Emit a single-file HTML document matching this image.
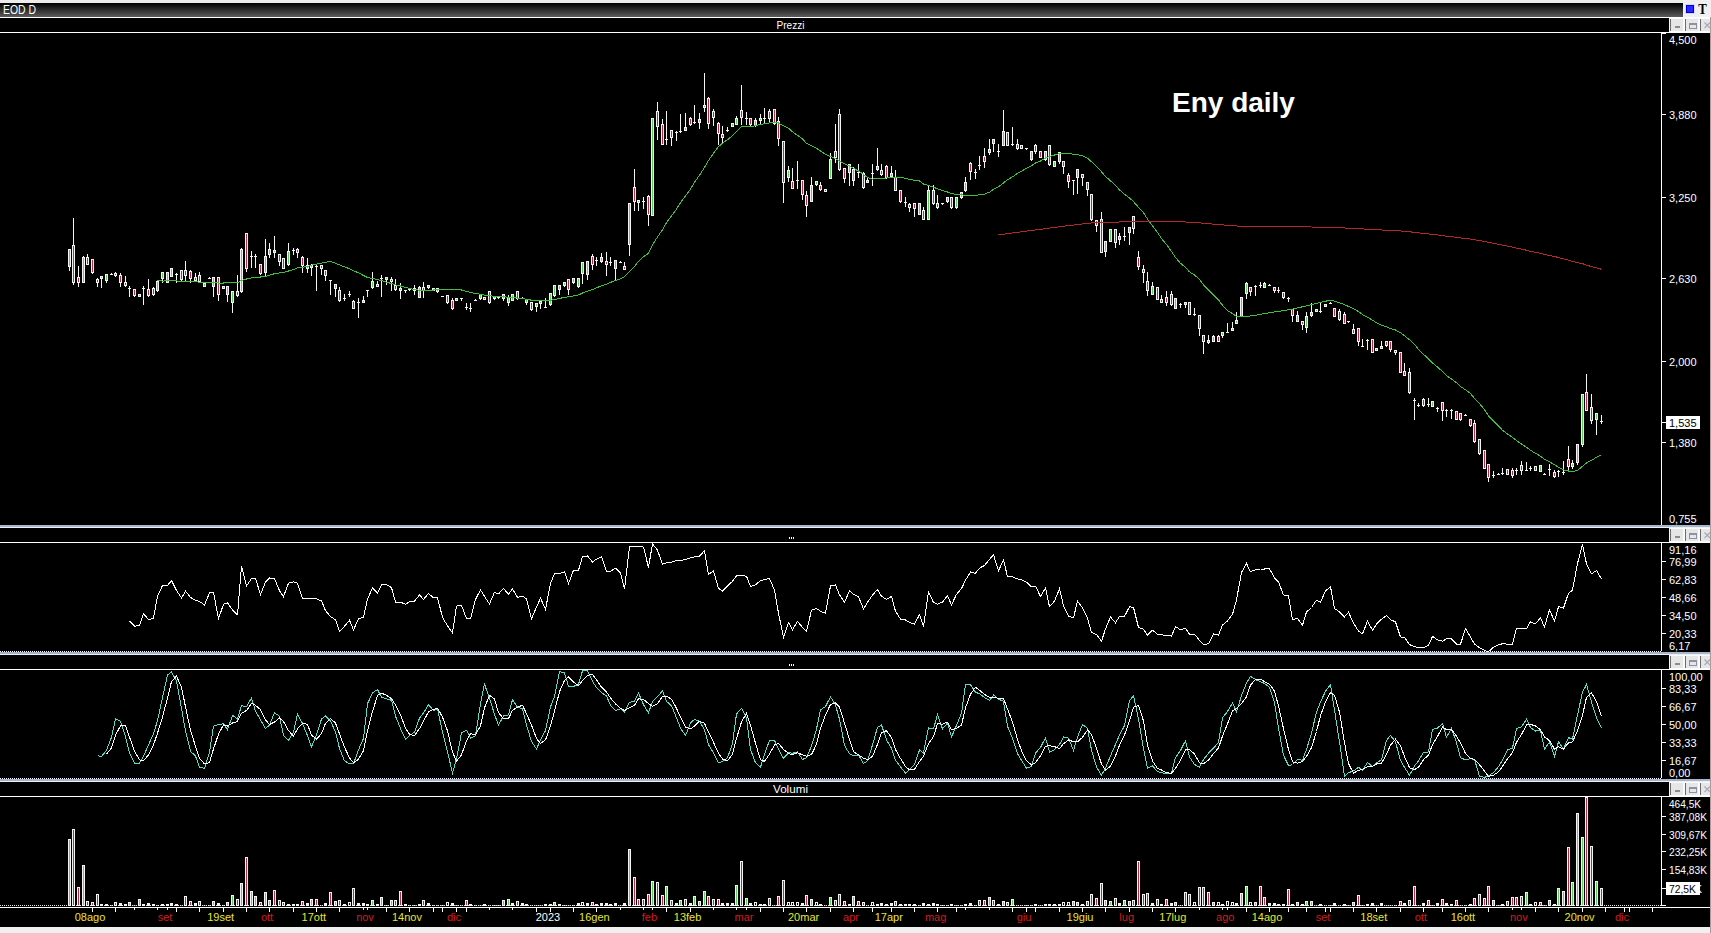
<!DOCTYPE html>
<html><head><meta charset="utf-8"><title>Eny daily</title>
<style>
html,body{margin:0;padding:0;background:#000;overflow:hidden;width:1711px;height:933px}
svg{display:block;font-family:"Liberation Sans",sans-serif}
</style></head><body>
<svg width="1711" height="933" viewBox="0 0 1711 933">
<defs><linearGradient id="gtop" x1="0" y1="0" x2="0" y2="1"><stop offset="0" stop-color="#000"/><stop offset="1" stop-color="#5c5c5c"/></linearGradient></defs>
<rect x="0" y="0" width="1711" height="933" fill="#000"/>
<g shape-rendering="crispEdges">
<rect x="69" y="249" width="1" height="22" fill="#f4f4f4"/>
<rect x="68" y="249" width="3" height="18" fill="#f4f4f4"/>
<rect x="69" y="250" width="1" height="16" fill="#5ccd5c"/>
<rect x="73" y="218" width="1" height="67" fill="#f4f4f4"/>
<rect x="72" y="245" width="3" height="38" fill="#f4f4f4"/>
<rect x="73" y="246" width="1" height="36" fill="#b42a44"/>
<rect x="78" y="266" width="1" height="21" fill="#f4f4f4"/>
<rect x="77" y="277" width="3" height="6" fill="#f4f4f4"/>
<rect x="78" y="278" width="1" height="4" fill="#b42a44"/>
<rect x="83" y="256" width="1" height="27" fill="#f4f4f4"/>
<rect x="82" y="257" width="3" height="26" fill="#f4f4f4"/>
<rect x="83" y="258" width="1" height="24" fill="#5ccd5c"/>
<rect x="87" y="254" width="1" height="11" fill="#f4f4f4"/>
<rect x="86" y="257" width="3" height="8" fill="#f4f4f4"/>
<rect x="87" y="258" width="1" height="6" fill="#b42a44"/>
<rect x="92" y="259" width="1" height="15" fill="#f4f4f4"/>
<rect x="91" y="259" width="3" height="14" fill="#f4f4f4"/>
<rect x="92" y="260" width="1" height="12" fill="#b42a44"/>
<rect x="97" y="278" width="1" height="9" fill="#f4f4f4"/>
<rect x="96" y="279" width="3" height="4" fill="#f4f4f4"/>
<rect x="97" y="280" width="1" height="2" fill="#b42a44"/>
<rect x="101" y="276" width="1" height="12" fill="#f4f4f4"/>
<rect x="100" y="276" width="3" height="3" fill="#f4f4f4"/>
<rect x="101" y="277" width="1" height="1" fill="#5ccd5c"/>
<rect x="106" y="274" width="1" height="9" fill="#f4f4f4"/>
<rect x="105" y="274" width="3" height="7" fill="#f4f4f4"/>
<rect x="106" y="275" width="1" height="5" fill="#5ccd5c"/>
<rect x="111" y="273" width="1" height="2" fill="#f4f4f4"/>
<rect x="110" y="274" width="3" height="1" fill="#f4f4f4"/>
<rect x="115" y="272" width="1" height="5" fill="#f4f4f4"/>
<rect x="114" y="273" width="3" height="3" fill="#f4f4f4"/>
<rect x="115" y="274" width="1" height="1" fill="#b42a44"/>
<rect x="120" y="273" width="1" height="14" fill="#f4f4f4"/>
<rect x="119" y="275" width="3" height="8" fill="#f4f4f4"/>
<rect x="120" y="276" width="1" height="6" fill="#b42a44"/>
<rect x="125" y="276" width="1" height="11" fill="#f4f4f4"/>
<rect x="124" y="282" width="3" height="4" fill="#f4f4f4"/>
<rect x="125" y="283" width="1" height="2" fill="#b42a44"/>
<rect x="129" y="286" width="1" height="11" fill="#f4f4f4"/>
<rect x="128" y="288" width="3" height="1" fill="#f4f4f4"/>
<rect x="134" y="289" width="1" height="8" fill="#f4f4f4"/>
<rect x="133" y="289" width="3" height="7" fill="#f4f4f4"/>
<rect x="134" y="290" width="1" height="5" fill="#b42a44"/>
<rect x="139" y="294" width="1" height="3" fill="#f4f4f4"/>
<rect x="138" y="294" width="3" height="3" fill="#f4f4f4"/>
<rect x="139" y="295" width="1" height="1" fill="#5ccd5c"/>
<rect x="143" y="286" width="1" height="19" fill="#f4f4f4"/>
<rect x="142" y="288" width="3" height="1" fill="#f4f4f4"/>
<rect x="148" y="279" width="1" height="18" fill="#f4f4f4"/>
<rect x="147" y="289" width="3" height="7" fill="#f4f4f4"/>
<rect x="148" y="290" width="1" height="5" fill="#b42a44"/>
<rect x="153" y="287" width="1" height="9" fill="#f4f4f4"/>
<rect x="152" y="288" width="3" height="7" fill="#f4f4f4"/>
<rect x="153" y="289" width="1" height="5" fill="#b42a44"/>
<rect x="157" y="281" width="1" height="11" fill="#f4f4f4"/>
<rect x="156" y="281" width="3" height="10" fill="#f4f4f4"/>
<rect x="157" y="282" width="1" height="8" fill="#5ccd5c"/>
<rect x="162" y="272" width="1" height="11" fill="#f4f4f4"/>
<rect x="161" y="272" width="3" height="7" fill="#f4f4f4"/>
<rect x="162" y="273" width="1" height="5" fill="#5ccd5c"/>
<rect x="167" y="272" width="1" height="11" fill="#f4f4f4"/>
<rect x="166" y="272" width="3" height="11" fill="#f4f4f4"/>
<rect x="167" y="273" width="1" height="9" fill="#5ccd5c"/>
<rect x="171" y="268" width="1" height="9" fill="#f4f4f4"/>
<rect x="170" y="268" width="3" height="9" fill="#f4f4f4"/>
<rect x="171" y="269" width="1" height="7" fill="#5ccd5c"/>
<rect x="176" y="273" width="1" height="10" fill="#f4f4f4"/>
<rect x="175" y="274" width="3" height="1" fill="#f4f4f4"/>
<rect x="181" y="270" width="1" height="11" fill="#f4f4f4"/>
<rect x="180" y="270" width="3" height="10" fill="#f4f4f4"/>
<rect x="181" y="271" width="1" height="8" fill="#b42a44"/>
<rect x="185" y="261" width="1" height="20" fill="#f4f4f4"/>
<rect x="184" y="270" width="3" height="6" fill="#f4f4f4"/>
<rect x="185" y="271" width="1" height="4" fill="#b42a44"/>
<rect x="190" y="270" width="1" height="13" fill="#f4f4f4"/>
<rect x="189" y="271" width="3" height="8" fill="#f4f4f4"/>
<rect x="190" y="272" width="1" height="6" fill="#b42a44"/>
<rect x="195" y="273" width="1" height="9" fill="#f4f4f4"/>
<rect x="194" y="277" width="3" height="4" fill="#f4f4f4"/>
<rect x="195" y="278" width="1" height="2" fill="#b42a44"/>
<rect x="199" y="272" width="1" height="11" fill="#f4f4f4"/>
<rect x="198" y="275" width="3" height="7" fill="#f4f4f4"/>
<rect x="199" y="276" width="1" height="5" fill="#b42a44"/>
<rect x="204" y="283" width="1" height="4" fill="#f4f4f4"/>
<rect x="203" y="283" width="3" height="4" fill="#f4f4f4"/>
<rect x="204" y="284" width="1" height="2" fill="#5ccd5c"/>
<rect x="209" y="277" width="1" height="2" fill="#f4f4f4"/>
<rect x="208" y="278" width="3" height="1" fill="#f4f4f4"/>
<rect x="213" y="277" width="1" height="20" fill="#f4f4f4"/>
<rect x="212" y="277" width="3" height="10" fill="#f4f4f4"/>
<rect x="213" y="278" width="1" height="8" fill="#5ccd5c"/>
<rect x="218" y="277" width="1" height="24" fill="#f4f4f4"/>
<rect x="217" y="277" width="3" height="18" fill="#f4f4f4"/>
<rect x="218" y="278" width="1" height="16" fill="#b42a44"/>
<rect x="223" y="286" width="1" height="3" fill="#f4f4f4"/>
<rect x="222" y="286" width="3" height="3" fill="#f4f4f4"/>
<rect x="223" y="287" width="1" height="1" fill="#5ccd5c"/>
<rect x="227" y="286" width="1" height="16" fill="#f4f4f4"/>
<rect x="226" y="286" width="3" height="9" fill="#f4f4f4"/>
<rect x="227" y="287" width="1" height="7" fill="#5ccd5c"/>
<rect x="232" y="291" width="1" height="22" fill="#f4f4f4"/>
<rect x="231" y="291" width="3" height="12" fill="#f4f4f4"/>
<rect x="232" y="292" width="1" height="10" fill="#5ccd5c"/>
<rect x="237" y="275" width="1" height="22" fill="#f4f4f4"/>
<rect x="236" y="291" width="3" height="5" fill="#f4f4f4"/>
<rect x="237" y="292" width="1" height="3" fill="#b42a44"/>
<rect x="241" y="248" width="1" height="45" fill="#f4f4f4"/>
<rect x="240" y="249" width="3" height="43" fill="#f4f4f4"/>
<rect x="241" y="250" width="1" height="41" fill="#5ccd5c"/>
<rect x="246" y="233" width="1" height="39" fill="#f4f4f4"/>
<rect x="245" y="233" width="3" height="36" fill="#f4f4f4"/>
<rect x="246" y="234" width="1" height="34" fill="#b42a44"/>
<rect x="251" y="251" width="1" height="17" fill="#f4f4f4"/>
<rect x="250" y="256" width="3" height="1" fill="#f4f4f4"/>
<rect x="255" y="254" width="1" height="14" fill="#f4f4f4"/>
<rect x="254" y="256" width="3" height="1" fill="#f4f4f4"/>
<rect x="260" y="264" width="1" height="11" fill="#f4f4f4"/>
<rect x="259" y="264" width="3" height="10" fill="#f4f4f4"/>
<rect x="260" y="265" width="1" height="8" fill="#b42a44"/>
<rect x="265" y="239" width="1" height="37" fill="#f4f4f4"/>
<rect x="264" y="256" width="3" height="17" fill="#f4f4f4"/>
<rect x="265" y="257" width="1" height="15" fill="#5ccd5c"/>
<rect x="269" y="243" width="1" height="15" fill="#f4f4f4"/>
<rect x="268" y="249" width="3" height="6" fill="#f4f4f4"/>
<rect x="269" y="250" width="1" height="4" fill="#5ccd5c"/>
<rect x="274" y="236" width="1" height="22" fill="#f4f4f4"/>
<rect x="273" y="250" width="3" height="3" fill="#f4f4f4"/>
<rect x="274" y="251" width="1" height="1" fill="#5ccd5c"/>
<rect x="279" y="254" width="1" height="12" fill="#f4f4f4"/>
<rect x="278" y="254" width="3" height="8" fill="#f4f4f4"/>
<rect x="279" y="255" width="1" height="6" fill="#b42a44"/>
<rect x="283" y="258" width="1" height="11" fill="#f4f4f4"/>
<rect x="282" y="258" width="3" height="11" fill="#f4f4f4"/>
<rect x="283" y="259" width="1" height="9" fill="#b42a44"/>
<rect x="288" y="243" width="1" height="23" fill="#f4f4f4"/>
<rect x="287" y="251" width="3" height="14" fill="#f4f4f4"/>
<rect x="288" y="252" width="1" height="12" fill="#5ccd5c"/>
<rect x="293" y="248" width="1" height="7" fill="#f4f4f4"/>
<rect x="292" y="250" width="3" height="1" fill="#f4f4f4"/>
<rect x="297" y="248" width="1" height="10" fill="#f4f4f4"/>
<rect x="296" y="249" width="3" height="4" fill="#f4f4f4"/>
<rect x="297" y="250" width="1" height="2" fill="#b42a44"/>
<rect x="302" y="256" width="1" height="17" fill="#f4f4f4"/>
<rect x="301" y="257" width="3" height="9" fill="#f4f4f4"/>
<rect x="302" y="258" width="1" height="7" fill="#b42a44"/>
<rect x="307" y="258" width="1" height="15" fill="#f4f4f4"/>
<rect x="306" y="265" width="3" height="4" fill="#f4f4f4"/>
<rect x="307" y="266" width="1" height="2" fill="#5ccd5c"/>
<rect x="311" y="264" width="1" height="12" fill="#f4f4f4"/>
<rect x="310" y="265" width="3" height="3" fill="#f4f4f4"/>
<rect x="311" y="266" width="1" height="1" fill="#5ccd5c"/>
<rect x="316" y="264" width="1" height="27" fill="#f4f4f4"/>
<rect x="315" y="266" width="3" height="1" fill="#f4f4f4"/>
<rect x="321" y="265" width="1" height="10" fill="#f4f4f4"/>
<rect x="320" y="265" width="3" height="4" fill="#f4f4f4"/>
<rect x="321" y="266" width="1" height="2" fill="#b42a44"/>
<rect x="325" y="270" width="1" height="11" fill="#f4f4f4"/>
<rect x="324" y="270" width="3" height="6" fill="#f4f4f4"/>
<rect x="325" y="271" width="1" height="4" fill="#b42a44"/>
<rect x="330" y="280" width="1" height="15" fill="#f4f4f4"/>
<rect x="329" y="280" width="3" height="1" fill="#f4f4f4"/>
<rect x="335" y="284" width="1" height="13" fill="#f4f4f4"/>
<rect x="334" y="284" width="3" height="5" fill="#f4f4f4"/>
<rect x="335" y="285" width="1" height="3" fill="#5ccd5c"/>
<rect x="339" y="287" width="1" height="15" fill="#f4f4f4"/>
<rect x="338" y="290" width="3" height="11" fill="#f4f4f4"/>
<rect x="339" y="291" width="1" height="9" fill="#b42a44"/>
<rect x="344" y="294" width="1" height="7" fill="#f4f4f4"/>
<rect x="343" y="298" width="3" height="1" fill="#f4f4f4"/>
<rect x="349" y="291" width="1" height="6" fill="#f4f4f4"/>
<rect x="348" y="294" width="3" height="1" fill="#f4f4f4"/>
<rect x="353" y="300" width="1" height="9" fill="#f4f4f4"/>
<rect x="352" y="301" width="3" height="8" fill="#f4f4f4"/>
<rect x="353" y="302" width="1" height="6" fill="#b42a44"/>
<rect x="358" y="298" width="1" height="20" fill="#f4f4f4"/>
<rect x="357" y="302" width="3" height="1" fill="#f4f4f4"/>
<rect x="363" y="296" width="1" height="6" fill="#f4f4f4"/>
<rect x="362" y="300" width="3" height="3" fill="#f4f4f4"/>
<rect x="363" y="301" width="1" height="1" fill="#5ccd5c"/>
<rect x="367" y="290" width="1" height="7" fill="#f4f4f4"/>
<rect x="366" y="290" width="3" height="1" fill="#f4f4f4"/>
<rect x="372" y="272" width="1" height="17" fill="#f4f4f4"/>
<rect x="371" y="281" width="3" height="7" fill="#f4f4f4"/>
<rect x="372" y="282" width="1" height="5" fill="#5ccd5c"/>
<rect x="377" y="281" width="1" height="6" fill="#f4f4f4"/>
<rect x="376" y="284" width="3" height="3" fill="#f4f4f4"/>
<rect x="377" y="285" width="1" height="1" fill="#b42a44"/>
<rect x="381" y="275" width="1" height="22" fill="#f4f4f4"/>
<rect x="380" y="278" width="3" height="1" fill="#f4f4f4"/>
<rect x="386" y="277" width="1" height="8" fill="#f4f4f4"/>
<rect x="385" y="277" width="3" height="3" fill="#f4f4f4"/>
<rect x="386" y="278" width="1" height="1" fill="#5ccd5c"/>
<rect x="391" y="277" width="1" height="14" fill="#f4f4f4"/>
<rect x="390" y="279" width="3" height="3" fill="#f4f4f4"/>
<rect x="391" y="280" width="1" height="1" fill="#b42a44"/>
<rect x="395" y="279" width="1" height="12" fill="#f4f4f4"/>
<rect x="394" y="285" width="3" height="5" fill="#f4f4f4"/>
<rect x="395" y="286" width="1" height="3" fill="#b42a44"/>
<rect x="400" y="283" width="1" height="16" fill="#f4f4f4"/>
<rect x="399" y="288" width="3" height="3" fill="#f4f4f4"/>
<rect x="400" y="289" width="1" height="1" fill="#5ccd5c"/>
<rect x="405" y="290" width="1" height="3" fill="#f4f4f4"/>
<rect x="404" y="290" width="3" height="1" fill="#f4f4f4"/>
<rect x="409" y="289" width="1" height="2" fill="#f4f4f4"/>
<rect x="408" y="289" width="3" height="1" fill="#f4f4f4"/>
<rect x="414" y="285" width="1" height="10" fill="#f4f4f4"/>
<rect x="413" y="288" width="3" height="3" fill="#f4f4f4"/>
<rect x="414" y="289" width="1" height="1" fill="#5ccd5c"/>
<rect x="419" y="286" width="1" height="12" fill="#f4f4f4"/>
<rect x="418" y="287" width="3" height="11" fill="#f4f4f4"/>
<rect x="419" y="288" width="1" height="9" fill="#5ccd5c"/>
<rect x="423" y="282" width="1" height="16" fill="#f4f4f4"/>
<rect x="422" y="287" width="3" height="4" fill="#f4f4f4"/>
<rect x="423" y="288" width="1" height="2" fill="#b42a44"/>
<rect x="428" y="285" width="1" height="4" fill="#f4f4f4"/>
<rect x="427" y="285" width="3" height="3" fill="#f4f4f4"/>
<rect x="428" y="286" width="1" height="1" fill="#5ccd5c"/>
<rect x="433" y="288" width="1" height="3" fill="#f4f4f4"/>
<rect x="432" y="288" width="3" height="3" fill="#f4f4f4"/>
<rect x="433" y="289" width="1" height="1" fill="#5ccd5c"/>
<rect x="437" y="288" width="1" height="5" fill="#f4f4f4"/>
<rect x="436" y="288" width="3" height="4" fill="#f4f4f4"/>
<rect x="437" y="289" width="1" height="2" fill="#5ccd5c"/>
<rect x="442" y="296" width="1" height="1" fill="#f4f4f4"/>
<rect x="441" y="296" width="3" height="1" fill="#f4f4f4"/>
<rect x="447" y="295" width="1" height="9" fill="#f4f4f4"/>
<rect x="446" y="295" width="3" height="8" fill="#f4f4f4"/>
<rect x="447" y="296" width="1" height="6" fill="#b42a44"/>
<rect x="452" y="298" width="1" height="12" fill="#f4f4f4"/>
<rect x="451" y="300" width="3" height="9" fill="#f4f4f4"/>
<rect x="452" y="301" width="1" height="7" fill="#b42a44"/>
<rect x="456" y="298" width="1" height="3" fill="#f4f4f4"/>
<rect x="455" y="298" width="3" height="3" fill="#f4f4f4"/>
<rect x="456" y="299" width="1" height="1" fill="#5ccd5c"/>
<rect x="461" y="298" width="1" height="3" fill="#f4f4f4"/>
<rect x="460" y="298" width="3" height="1" fill="#f4f4f4"/>
<rect x="466" y="303" width="1" height="7" fill="#f4f4f4"/>
<rect x="465" y="307" width="3" height="1" fill="#f4f4f4"/>
<rect x="470" y="303" width="1" height="9" fill="#f4f4f4"/>
<rect x="469" y="308" width="3" height="1" fill="#f4f4f4"/>
<rect x="475" y="299" width="1" height="2" fill="#f4f4f4"/>
<rect x="474" y="300" width="3" height="1" fill="#f4f4f4"/>
<rect x="480" y="294" width="1" height="6" fill="#f4f4f4"/>
<rect x="479" y="294" width="3" height="5" fill="#f4f4f4"/>
<rect x="480" y="295" width="1" height="3" fill="#5ccd5c"/>
<rect x="484" y="297" width="1" height="3" fill="#f4f4f4"/>
<rect x="483" y="297" width="3" height="3" fill="#f4f4f4"/>
<rect x="484" y="298" width="1" height="1" fill="#b42a44"/>
<rect x="489" y="291" width="1" height="13" fill="#f4f4f4"/>
<rect x="488" y="291" width="3" height="12" fill="#f4f4f4"/>
<rect x="489" y="292" width="1" height="10" fill="#b42a44"/>
<rect x="494" y="296" width="1" height="4" fill="#f4f4f4"/>
<rect x="493" y="296" width="3" height="3" fill="#f4f4f4"/>
<rect x="494" y="297" width="1" height="1" fill="#5ccd5c"/>
<rect x="498" y="297" width="1" height="2" fill="#f4f4f4"/>
<rect x="497" y="297" width="3" height="1" fill="#f4f4f4"/>
<rect x="503" y="294" width="1" height="7" fill="#f4f4f4"/>
<rect x="502" y="294" width="3" height="5" fill="#f4f4f4"/>
<rect x="503" y="295" width="1" height="3" fill="#5ccd5c"/>
<rect x="508" y="295" width="1" height="11" fill="#f4f4f4"/>
<rect x="507" y="297" width="3" height="6" fill="#f4f4f4"/>
<rect x="508" y="298" width="1" height="4" fill="#5ccd5c"/>
<rect x="512" y="294" width="1" height="7" fill="#f4f4f4"/>
<rect x="511" y="294" width="3" height="7" fill="#f4f4f4"/>
<rect x="512" y="295" width="1" height="5" fill="#5ccd5c"/>
<rect x="517" y="291" width="1" height="9" fill="#f4f4f4"/>
<rect x="516" y="291" width="3" height="8" fill="#f4f4f4"/>
<rect x="517" y="292" width="1" height="6" fill="#b42a44"/>
<rect x="522" y="297" width="1" height="2" fill="#f4f4f4"/>
<rect x="521" y="298" width="3" height="1" fill="#f4f4f4"/>
<rect x="526" y="299" width="1" height="6" fill="#f4f4f4"/>
<rect x="525" y="299" width="3" height="4" fill="#f4f4f4"/>
<rect x="526" y="300" width="1" height="2" fill="#5ccd5c"/>
<rect x="531" y="302" width="1" height="9" fill="#f4f4f4"/>
<rect x="530" y="302" width="3" height="8" fill="#f4f4f4"/>
<rect x="531" y="303" width="1" height="6" fill="#b42a44"/>
<rect x="536" y="303" width="1" height="9" fill="#f4f4f4"/>
<rect x="535" y="303" width="3" height="4" fill="#f4f4f4"/>
<rect x="536" y="304" width="1" height="2" fill="#5ccd5c"/>
<rect x="540" y="300" width="1" height="9" fill="#f4f4f4"/>
<rect x="539" y="301" width="3" height="3" fill="#f4f4f4"/>
<rect x="540" y="302" width="1" height="1" fill="#5ccd5c"/>
<rect x="545" y="298" width="1" height="10" fill="#f4f4f4"/>
<rect x="544" y="307" width="3" height="1" fill="#f4f4f4"/>
<rect x="550" y="293" width="1" height="13" fill="#f4f4f4"/>
<rect x="549" y="293" width="3" height="12" fill="#f4f4f4"/>
<rect x="550" y="294" width="1" height="10" fill="#5ccd5c"/>
<rect x="554" y="285" width="1" height="12" fill="#f4f4f4"/>
<rect x="553" y="285" width="3" height="11" fill="#f4f4f4"/>
<rect x="554" y="286" width="1" height="9" fill="#5ccd5c"/>
<rect x="559" y="285" width="1" height="10" fill="#f4f4f4"/>
<rect x="558" y="285" width="3" height="5" fill="#f4f4f4"/>
<rect x="559" y="286" width="1" height="3" fill="#5ccd5c"/>
<rect x="564" y="282" width="1" height="5" fill="#f4f4f4"/>
<rect x="563" y="282" width="3" height="4" fill="#f4f4f4"/>
<rect x="564" y="283" width="1" height="2" fill="#5ccd5c"/>
<rect x="568" y="279" width="1" height="16" fill="#f4f4f4"/>
<rect x="567" y="279" width="3" height="11" fill="#f4f4f4"/>
<rect x="568" y="280" width="1" height="9" fill="#b42a44"/>
<rect x="573" y="278" width="1" height="6" fill="#f4f4f4"/>
<rect x="572" y="278" width="3" height="5" fill="#f4f4f4"/>
<rect x="573" y="279" width="1" height="3" fill="#5ccd5c"/>
<rect x="578" y="278" width="1" height="10" fill="#f4f4f4"/>
<rect x="577" y="278" width="3" height="9" fill="#f4f4f4"/>
<rect x="578" y="279" width="1" height="7" fill="#5ccd5c"/>
<rect x="582" y="262" width="1" height="22" fill="#f4f4f4"/>
<rect x="581" y="262" width="3" height="12" fill="#f4f4f4"/>
<rect x="582" y="263" width="1" height="10" fill="#5ccd5c"/>
<rect x="587" y="261" width="1" height="19" fill="#f4f4f4"/>
<rect x="586" y="261" width="3" height="14" fill="#f4f4f4"/>
<rect x="587" y="262" width="1" height="12" fill="#5ccd5c"/>
<rect x="592" y="254" width="1" height="16" fill="#f4f4f4"/>
<rect x="591" y="256" width="3" height="9" fill="#f4f4f4"/>
<rect x="592" y="257" width="1" height="7" fill="#b42a44"/>
<rect x="596" y="257" width="1" height="9" fill="#f4f4f4"/>
<rect x="595" y="260" width="3" height="1" fill="#f4f4f4"/>
<rect x="601" y="253" width="1" height="10" fill="#f4f4f4"/>
<rect x="600" y="257" width="3" height="5" fill="#f4f4f4"/>
<rect x="601" y="258" width="1" height="3" fill="#5ccd5c"/>
<rect x="606" y="252" width="1" height="24" fill="#f4f4f4"/>
<rect x="605" y="261" width="3" height="4" fill="#f4f4f4"/>
<rect x="606" y="262" width="1" height="2" fill="#b42a44"/>
<rect x="610" y="257" width="1" height="9" fill="#f4f4f4"/>
<rect x="609" y="262" width="3" height="1" fill="#f4f4f4"/>
<rect x="615" y="260" width="1" height="21" fill="#f4f4f4"/>
<rect x="614" y="260" width="3" height="9" fill="#f4f4f4"/>
<rect x="615" y="261" width="1" height="7" fill="#5ccd5c"/>
<rect x="620" y="261" width="1" height="2" fill="#f4f4f4"/>
<rect x="619" y="262" width="3" height="1" fill="#f4f4f4"/>
<rect x="624" y="262" width="1" height="8" fill="#f4f4f4"/>
<rect x="623" y="266" width="3" height="4" fill="#f4f4f4"/>
<rect x="624" y="267" width="1" height="2" fill="#b42a44"/>
<rect x="629" y="203" width="1" height="53" fill="#f4f4f4"/>
<rect x="628" y="203" width="3" height="42" fill="#f4f4f4"/>
<rect x="629" y="204" width="1" height="40" fill="#5ccd5c"/>
<rect x="634" y="169" width="1" height="42" fill="#f4f4f4"/>
<rect x="633" y="187" width="3" height="15" fill="#f4f4f4"/>
<rect x="634" y="188" width="1" height="13" fill="#b42a44"/>
<rect x="638" y="200" width="1" height="11" fill="#f4f4f4"/>
<rect x="637" y="200" width="3" height="3" fill="#f4f4f4"/>
<rect x="638" y="201" width="1" height="1" fill="#5ccd5c"/>
<rect x="643" y="197" width="1" height="12" fill="#f4f4f4"/>
<rect x="642" y="201" width="3" height="1" fill="#f4f4f4"/>
<rect x="648" y="195" width="1" height="31" fill="#f4f4f4"/>
<rect x="647" y="196" width="3" height="19" fill="#f4f4f4"/>
<rect x="648" y="197" width="1" height="17" fill="#b42a44"/>
<rect x="652" y="118" width="1" height="98" fill="#f4f4f4"/>
<rect x="651" y="118" width="3" height="98" fill="#f4f4f4"/>
<rect x="652" y="119" width="1" height="96" fill="#5ccd5c"/>
<rect x="657" y="102" width="1" height="38" fill="#f4f4f4"/>
<rect x="656" y="111" width="3" height="16" fill="#f4f4f4"/>
<rect x="657" y="112" width="1" height="14" fill="#b42a44"/>
<rect x="662" y="119" width="1" height="26" fill="#f4f4f4"/>
<rect x="661" y="124" width="3" height="21" fill="#f4f4f4"/>
<rect x="662" y="125" width="1" height="19" fill="#b42a44"/>
<rect x="666" y="111" width="1" height="34" fill="#f4f4f4"/>
<rect x="665" y="139" width="3" height="1" fill="#f4f4f4"/>
<rect x="671" y="130" width="1" height="16" fill="#f4f4f4"/>
<rect x="670" y="130" width="3" height="8" fill="#f4f4f4"/>
<rect x="671" y="131" width="1" height="6" fill="#b42a44"/>
<rect x="676" y="131" width="1" height="10" fill="#f4f4f4"/>
<rect x="675" y="132" width="3" height="1" fill="#f4f4f4"/>
<rect x="680" y="114" width="1" height="19" fill="#f4f4f4"/>
<rect x="679" y="131" width="3" height="1" fill="#f4f4f4"/>
<rect x="685" y="113" width="1" height="18" fill="#f4f4f4"/>
<rect x="684" y="127" width="3" height="4" fill="#f4f4f4"/>
<rect x="685" y="128" width="1" height="2" fill="#5ccd5c"/>
<rect x="690" y="117" width="1" height="9" fill="#f4f4f4"/>
<rect x="689" y="118" width="3" height="7" fill="#f4f4f4"/>
<rect x="690" y="119" width="1" height="5" fill="#b42a44"/>
<rect x="694" y="105" width="1" height="19" fill="#f4f4f4"/>
<rect x="693" y="122" width="3" height="1" fill="#f4f4f4"/>
<rect x="699" y="113" width="1" height="16" fill="#f4f4f4"/>
<rect x="698" y="119" width="3" height="4" fill="#f4f4f4"/>
<rect x="699" y="120" width="1" height="2" fill="#5ccd5c"/>
<rect x="704" y="73" width="1" height="39" fill="#f4f4f4"/>
<rect x="703" y="105" width="3" height="3" fill="#f4f4f4"/>
<rect x="704" y="106" width="1" height="1" fill="#5ccd5c"/>
<rect x="708" y="97" width="1" height="32" fill="#f4f4f4"/>
<rect x="707" y="98" width="3" height="26" fill="#f4f4f4"/>
<rect x="708" y="99" width="1" height="24" fill="#b42a44"/>
<rect x="713" y="109" width="1" height="17" fill="#f4f4f4"/>
<rect x="712" y="111" width="3" height="7" fill="#f4f4f4"/>
<rect x="713" y="112" width="1" height="5" fill="#b42a44"/>
<rect x="718" y="122" width="1" height="23" fill="#f4f4f4"/>
<rect x="717" y="123" width="3" height="11" fill="#f4f4f4"/>
<rect x="718" y="124" width="1" height="9" fill="#b42a44"/>
<rect x="722" y="126" width="1" height="18" fill="#f4f4f4"/>
<rect x="721" y="134" width="3" height="4" fill="#f4f4f4"/>
<rect x="722" y="135" width="1" height="2" fill="#b42a44"/>
<rect x="727" y="127" width="1" height="5" fill="#f4f4f4"/>
<rect x="726" y="130" width="3" height="1" fill="#f4f4f4"/>
<rect x="732" y="123" width="1" height="4" fill="#f4f4f4"/>
<rect x="731" y="123" width="3" height="4" fill="#f4f4f4"/>
<rect x="732" y="124" width="1" height="2" fill="#5ccd5c"/>
<rect x="736" y="116" width="1" height="9" fill="#f4f4f4"/>
<rect x="735" y="118" width="3" height="7" fill="#f4f4f4"/>
<rect x="736" y="119" width="1" height="5" fill="#5ccd5c"/>
<rect x="741" y="85" width="1" height="40" fill="#f4f4f4"/>
<rect x="740" y="110" width="3" height="8" fill="#f4f4f4"/>
<rect x="741" y="111" width="1" height="6" fill="#b42a44"/>
<rect x="746" y="112" width="1" height="13" fill="#f4f4f4"/>
<rect x="745" y="118" width="3" height="1" fill="#f4f4f4"/>
<rect x="750" y="118" width="1" height="8" fill="#f4f4f4"/>
<rect x="749" y="118" width="3" height="7" fill="#f4f4f4"/>
<rect x="750" y="119" width="1" height="5" fill="#b42a44"/>
<rect x="755" y="118" width="1" height="9" fill="#f4f4f4"/>
<rect x="754" y="120" width="3" height="6" fill="#f4f4f4"/>
<rect x="755" y="121" width="1" height="4" fill="#5ccd5c"/>
<rect x="760" y="114" width="1" height="11" fill="#f4f4f4"/>
<rect x="759" y="118" width="3" height="3" fill="#f4f4f4"/>
<rect x="760" y="119" width="1" height="1" fill="#5ccd5c"/>
<rect x="764" y="108" width="1" height="16" fill="#f4f4f4"/>
<rect x="763" y="118" width="3" height="1" fill="#f4f4f4"/>
<rect x="769" y="109" width="1" height="14" fill="#f4f4f4"/>
<rect x="768" y="111" width="3" height="8" fill="#f4f4f4"/>
<rect x="769" y="112" width="1" height="6" fill="#b42a44"/>
<rect x="774" y="109" width="1" height="16" fill="#f4f4f4"/>
<rect x="773" y="109" width="3" height="15" fill="#f4f4f4"/>
<rect x="774" y="110" width="1" height="13" fill="#b42a44"/>
<rect x="778" y="117" width="1" height="29" fill="#f4f4f4"/>
<rect x="777" y="121" width="3" height="18" fill="#f4f4f4"/>
<rect x="778" y="122" width="1" height="16" fill="#b42a44"/>
<rect x="783" y="141" width="1" height="62" fill="#f4f4f4"/>
<rect x="782" y="141" width="3" height="42" fill="#f4f4f4"/>
<rect x="783" y="142" width="1" height="40" fill="#b42a44"/>
<rect x="788" y="166" width="1" height="16" fill="#f4f4f4"/>
<rect x="787" y="170" width="3" height="8" fill="#f4f4f4"/>
<rect x="788" y="171" width="1" height="6" fill="#5ccd5c"/>
<rect x="792" y="168" width="1" height="21" fill="#f4f4f4"/>
<rect x="791" y="181" width="3" height="8" fill="#f4f4f4"/>
<rect x="792" y="182" width="1" height="6" fill="#b42a44"/>
<rect x="797" y="161" width="1" height="28" fill="#f4f4f4"/>
<rect x="796" y="180" width="3" height="1" fill="#f4f4f4"/>
<rect x="802" y="180" width="1" height="20" fill="#f4f4f4"/>
<rect x="801" y="180" width="3" height="15" fill="#f4f4f4"/>
<rect x="802" y="181" width="1" height="13" fill="#b42a44"/>
<rect x="806" y="191" width="1" height="26" fill="#f4f4f4"/>
<rect x="805" y="195" width="3" height="11" fill="#f4f4f4"/>
<rect x="806" y="196" width="1" height="9" fill="#b42a44"/>
<rect x="811" y="177" width="1" height="25" fill="#f4f4f4"/>
<rect x="810" y="185" width="3" height="17" fill="#f4f4f4"/>
<rect x="811" y="186" width="1" height="15" fill="#5ccd5c"/>
<rect x="816" y="181" width="1" height="5" fill="#f4f4f4"/>
<rect x="815" y="181" width="3" height="4" fill="#f4f4f4"/>
<rect x="816" y="182" width="1" height="2" fill="#5ccd5c"/>
<rect x="820" y="182" width="1" height="9" fill="#f4f4f4"/>
<rect x="819" y="185" width="3" height="5" fill="#f4f4f4"/>
<rect x="820" y="186" width="1" height="3" fill="#b42a44"/>
<rect x="825" y="189" width="1" height="3" fill="#f4f4f4"/>
<rect x="824" y="189" width="3" height="3" fill="#f4f4f4"/>
<rect x="825" y="190" width="1" height="1" fill="#b42a44"/>
<rect x="830" y="153" width="1" height="26" fill="#f4f4f4"/>
<rect x="829" y="159" width="3" height="20" fill="#f4f4f4"/>
<rect x="830" y="160" width="1" height="18" fill="#5ccd5c"/>
<rect x="835" y="124" width="1" height="39" fill="#f4f4f4"/>
<rect x="834" y="151" width="3" height="7" fill="#f4f4f4"/>
<rect x="835" y="152" width="1" height="5" fill="#b42a44"/>
<rect x="839" y="109" width="1" height="62" fill="#f4f4f4"/>
<rect x="838" y="114" width="3" height="56" fill="#f4f4f4"/>
<rect x="839" y="115" width="1" height="54" fill="#b42a44"/>
<rect x="844" y="168" width="1" height="15" fill="#f4f4f4"/>
<rect x="843" y="168" width="3" height="11" fill="#f4f4f4"/>
<rect x="844" y="169" width="1" height="9" fill="#b42a44"/>
<rect x="849" y="164" width="1" height="22" fill="#f4f4f4"/>
<rect x="848" y="164" width="3" height="9" fill="#f4f4f4"/>
<rect x="849" y="165" width="1" height="7" fill="#5ccd5c"/>
<rect x="853" y="167" width="1" height="19" fill="#f4f4f4"/>
<rect x="852" y="169" width="3" height="12" fill="#f4f4f4"/>
<rect x="853" y="170" width="1" height="10" fill="#5ccd5c"/>
<rect x="858" y="164" width="1" height="14" fill="#f4f4f4"/>
<rect x="857" y="172" width="3" height="1" fill="#f4f4f4"/>
<rect x="863" y="172" width="1" height="17" fill="#f4f4f4"/>
<rect x="862" y="173" width="3" height="15" fill="#f4f4f4"/>
<rect x="863" y="174" width="1" height="13" fill="#b42a44"/>
<rect x="867" y="178" width="1" height="5" fill="#f4f4f4"/>
<rect x="866" y="180" width="3" height="3" fill="#f4f4f4"/>
<rect x="867" y="181" width="1" height="1" fill="#5ccd5c"/>
<rect x="872" y="164" width="1" height="22" fill="#f4f4f4"/>
<rect x="871" y="173" width="3" height="1" fill="#f4f4f4"/>
<rect x="877" y="148" width="1" height="23" fill="#f4f4f4"/>
<rect x="876" y="166" width="3" height="4" fill="#f4f4f4"/>
<rect x="877" y="167" width="1" height="2" fill="#5ccd5c"/>
<rect x="881" y="164" width="1" height="12" fill="#f4f4f4"/>
<rect x="880" y="170" width="3" height="5" fill="#f4f4f4"/>
<rect x="881" y="171" width="1" height="3" fill="#b42a44"/>
<rect x="886" y="165" width="1" height="14" fill="#f4f4f4"/>
<rect x="885" y="166" width="3" height="12" fill="#f4f4f4"/>
<rect x="886" y="167" width="1" height="10" fill="#b42a44"/>
<rect x="891" y="166" width="1" height="12" fill="#f4f4f4"/>
<rect x="890" y="173" width="3" height="4" fill="#f4f4f4"/>
<rect x="891" y="174" width="1" height="2" fill="#5ccd5c"/>
<rect x="895" y="170" width="1" height="21" fill="#f4f4f4"/>
<rect x="894" y="177" width="3" height="14" fill="#f4f4f4"/>
<rect x="895" y="178" width="1" height="12" fill="#b42a44"/>
<rect x="900" y="190" width="1" height="13" fill="#f4f4f4"/>
<rect x="899" y="190" width="3" height="12" fill="#f4f4f4"/>
<rect x="900" y="191" width="1" height="10" fill="#b42a44"/>
<rect x="905" y="197" width="1" height="10" fill="#f4f4f4"/>
<rect x="904" y="202" width="3" height="1" fill="#f4f4f4"/>
<rect x="909" y="203" width="1" height="9" fill="#f4f4f4"/>
<rect x="908" y="204" width="3" height="4" fill="#f4f4f4"/>
<rect x="909" y="205" width="1" height="2" fill="#b42a44"/>
<rect x="914" y="203" width="1" height="14" fill="#f4f4f4"/>
<rect x="913" y="203" width="3" height="6" fill="#f4f4f4"/>
<rect x="914" y="204" width="1" height="4" fill="#b42a44"/>
<rect x="919" y="203" width="1" height="12" fill="#f4f4f4"/>
<rect x="918" y="203" width="3" height="12" fill="#f4f4f4"/>
<rect x="919" y="204" width="1" height="10" fill="#5ccd5c"/>
<rect x="923" y="207" width="1" height="13" fill="#f4f4f4"/>
<rect x="922" y="210" width="3" height="10" fill="#f4f4f4"/>
<rect x="923" y="211" width="1" height="8" fill="#b42a44"/>
<rect x="928" y="185" width="1" height="35" fill="#f4f4f4"/>
<rect x="927" y="190" width="3" height="30" fill="#f4f4f4"/>
<rect x="928" y="191" width="1" height="28" fill="#5ccd5c"/>
<rect x="933" y="185" width="1" height="20" fill="#f4f4f4"/>
<rect x="932" y="190" width="3" height="14" fill="#f4f4f4"/>
<rect x="933" y="191" width="1" height="12" fill="#b42a44"/>
<rect x="937" y="195" width="1" height="14" fill="#f4f4f4"/>
<rect x="936" y="203" width="3" height="5" fill="#f4f4f4"/>
<rect x="937" y="204" width="1" height="3" fill="#b42a44"/>
<rect x="942" y="203" width="1" height="2" fill="#f4f4f4"/>
<rect x="941" y="203" width="3" height="1" fill="#f4f4f4"/>
<rect x="947" y="197" width="1" height="6" fill="#f4f4f4"/>
<rect x="946" y="197" width="3" height="5" fill="#f4f4f4"/>
<rect x="947" y="198" width="1" height="3" fill="#5ccd5c"/>
<rect x="951" y="197" width="1" height="12" fill="#f4f4f4"/>
<rect x="950" y="197" width="3" height="11" fill="#f4f4f4"/>
<rect x="951" y="198" width="1" height="9" fill="#b42a44"/>
<rect x="956" y="197" width="1" height="12" fill="#f4f4f4"/>
<rect x="955" y="197" width="3" height="11" fill="#f4f4f4"/>
<rect x="956" y="198" width="1" height="9" fill="#5ccd5c"/>
<rect x="961" y="192" width="1" height="7" fill="#f4f4f4"/>
<rect x="960" y="192" width="3" height="6" fill="#f4f4f4"/>
<rect x="961" y="193" width="1" height="4" fill="#5ccd5c"/>
<rect x="965" y="177" width="1" height="15" fill="#f4f4f4"/>
<rect x="964" y="182" width="3" height="9" fill="#f4f4f4"/>
<rect x="965" y="183" width="1" height="7" fill="#5ccd5c"/>
<rect x="970" y="162" width="1" height="18" fill="#f4f4f4"/>
<rect x="969" y="163" width="3" height="9" fill="#f4f4f4"/>
<rect x="970" y="164" width="1" height="7" fill="#b42a44"/>
<rect x="975" y="169" width="1" height="10" fill="#f4f4f4"/>
<rect x="974" y="172" width="3" height="1" fill="#f4f4f4"/>
<rect x="979" y="156" width="1" height="14" fill="#f4f4f4"/>
<rect x="978" y="165" width="3" height="1" fill="#f4f4f4"/>
<rect x="984" y="148" width="1" height="20" fill="#f4f4f4"/>
<rect x="983" y="156" width="3" height="6" fill="#f4f4f4"/>
<rect x="984" y="157" width="1" height="4" fill="#b42a44"/>
<rect x="989" y="139" width="1" height="16" fill="#f4f4f4"/>
<rect x="988" y="149" width="3" height="4" fill="#f4f4f4"/>
<rect x="989" y="150" width="1" height="2" fill="#5ccd5c"/>
<rect x="993" y="139" width="1" height="13" fill="#f4f4f4"/>
<rect x="992" y="139" width="3" height="5" fill="#f4f4f4"/>
<rect x="993" y="140" width="1" height="3" fill="#5ccd5c"/>
<rect x="998" y="144" width="1" height="13" fill="#f4f4f4"/>
<rect x="997" y="151" width="3" height="1" fill="#f4f4f4"/>
<rect x="1003" y="110" width="1" height="36" fill="#f4f4f4"/>
<rect x="1002" y="131" width="3" height="15" fill="#f4f4f4"/>
<rect x="1003" y="132" width="1" height="13" fill="#5ccd5c"/>
<rect x="1007" y="132" width="1" height="14" fill="#f4f4f4"/>
<rect x="1006" y="132" width="3" height="14" fill="#f4f4f4"/>
<rect x="1007" y="133" width="1" height="12" fill="#b42a44"/>
<rect x="1012" y="127" width="1" height="19" fill="#f4f4f4"/>
<rect x="1011" y="144" width="3" height="1" fill="#f4f4f4"/>
<rect x="1017" y="139" width="1" height="11" fill="#f4f4f4"/>
<rect x="1016" y="144" width="3" height="5" fill="#f4f4f4"/>
<rect x="1017" y="145" width="1" height="3" fill="#b42a44"/>
<rect x="1021" y="145" width="1" height="4" fill="#f4f4f4"/>
<rect x="1020" y="145" width="3" height="4" fill="#f4f4f4"/>
<rect x="1021" y="146" width="1" height="2" fill="#b42a44"/>
<rect x="1026" y="148" width="1" height="2" fill="#f4f4f4"/>
<rect x="1025" y="148" width="3" height="1" fill="#f4f4f4"/>
<rect x="1031" y="151" width="1" height="10" fill="#f4f4f4"/>
<rect x="1030" y="151" width="3" height="9" fill="#f4f4f4"/>
<rect x="1031" y="152" width="1" height="7" fill="#5ccd5c"/>
<rect x="1035" y="144" width="1" height="10" fill="#f4f4f4"/>
<rect x="1034" y="145" width="3" height="7" fill="#f4f4f4"/>
<rect x="1035" y="146" width="1" height="5" fill="#b42a44"/>
<rect x="1040" y="151" width="1" height="7" fill="#f4f4f4"/>
<rect x="1039" y="151" width="3" height="7" fill="#f4f4f4"/>
<rect x="1040" y="152" width="1" height="5" fill="#b42a44"/>
<rect x="1045" y="151" width="1" height="10" fill="#f4f4f4"/>
<rect x="1044" y="151" width="3" height="9" fill="#f4f4f4"/>
<rect x="1045" y="152" width="1" height="7" fill="#5ccd5c"/>
<rect x="1049" y="145" width="1" height="21" fill="#f4f4f4"/>
<rect x="1048" y="145" width="3" height="20" fill="#f4f4f4"/>
<rect x="1049" y="146" width="1" height="18" fill="#b42a44"/>
<rect x="1054" y="161" width="1" height="6" fill="#f4f4f4"/>
<rect x="1053" y="161" width="3" height="6" fill="#f4f4f4"/>
<rect x="1054" y="162" width="1" height="4" fill="#5ccd5c"/>
<rect x="1059" y="152" width="1" height="12" fill="#f4f4f4"/>
<rect x="1058" y="152" width="3" height="10" fill="#f4f4f4"/>
<rect x="1059" y="153" width="1" height="8" fill="#5ccd5c"/>
<rect x="1063" y="161" width="1" height="13" fill="#f4f4f4"/>
<rect x="1062" y="161" width="3" height="6" fill="#f4f4f4"/>
<rect x="1063" y="162" width="1" height="4" fill="#b42a44"/>
<rect x="1068" y="173" width="1" height="15" fill="#f4f4f4"/>
<rect x="1067" y="175" width="3" height="7" fill="#f4f4f4"/>
<rect x="1068" y="176" width="1" height="5" fill="#b42a44"/>
<rect x="1073" y="180" width="1" height="15" fill="#f4f4f4"/>
<rect x="1072" y="180" width="3" height="1" fill="#f4f4f4"/>
<rect x="1077" y="169" width="1" height="25" fill="#f4f4f4"/>
<rect x="1076" y="169" width="3" height="9" fill="#f4f4f4"/>
<rect x="1077" y="170" width="1" height="7" fill="#5ccd5c"/>
<rect x="1082" y="174" width="1" height="12" fill="#f4f4f4"/>
<rect x="1081" y="174" width="3" height="4" fill="#f4f4f4"/>
<rect x="1082" y="175" width="1" height="2" fill="#b42a44"/>
<rect x="1087" y="182" width="1" height="14" fill="#f4f4f4"/>
<rect x="1086" y="182" width="3" height="8" fill="#f4f4f4"/>
<rect x="1087" y="183" width="1" height="6" fill="#b42a44"/>
<rect x="1091" y="194" width="1" height="27" fill="#f4f4f4"/>
<rect x="1090" y="194" width="3" height="26" fill="#f4f4f4"/>
<rect x="1091" y="195" width="1" height="24" fill="#b42a44"/>
<rect x="1096" y="220" width="1" height="12" fill="#f4f4f4"/>
<rect x="1095" y="220" width="3" height="6" fill="#f4f4f4"/>
<rect x="1096" y="221" width="1" height="4" fill="#b42a44"/>
<rect x="1101" y="212" width="1" height="41" fill="#f4f4f4"/>
<rect x="1100" y="219" width="3" height="34" fill="#f4f4f4"/>
<rect x="1101" y="220" width="1" height="32" fill="#b42a44"/>
<rect x="1105" y="241" width="1" height="16" fill="#f4f4f4"/>
<rect x="1104" y="241" width="3" height="11" fill="#f4f4f4"/>
<rect x="1105" y="242" width="1" height="9" fill="#5ccd5c"/>
<rect x="1110" y="229" width="1" height="13" fill="#f4f4f4"/>
<rect x="1109" y="229" width="3" height="13" fill="#f4f4f4"/>
<rect x="1110" y="230" width="1" height="11" fill="#5ccd5c"/>
<rect x="1115" y="229" width="1" height="19" fill="#f4f4f4"/>
<rect x="1114" y="229" width="3" height="14" fill="#f4f4f4"/>
<rect x="1115" y="230" width="1" height="12" fill="#b42a44"/>
<rect x="1119" y="233" width="1" height="12" fill="#f4f4f4"/>
<rect x="1118" y="236" width="3" height="4" fill="#f4f4f4"/>
<rect x="1119" y="237" width="1" height="2" fill="#5ccd5c"/>
<rect x="1124" y="227" width="1" height="14" fill="#f4f4f4"/>
<rect x="1123" y="236" width="3" height="1" fill="#f4f4f4"/>
<rect x="1129" y="227" width="1" height="18" fill="#f4f4f4"/>
<rect x="1128" y="227" width="3" height="6" fill="#f4f4f4"/>
<rect x="1129" y="228" width="1" height="4" fill="#5ccd5c"/>
<rect x="1133" y="216" width="1" height="18" fill="#f4f4f4"/>
<rect x="1132" y="216" width="3" height="13" fill="#f4f4f4"/>
<rect x="1133" y="217" width="1" height="11" fill="#b42a44"/>
<rect x="1138" y="251" width="1" height="19" fill="#f4f4f4"/>
<rect x="1137" y="257" width="3" height="10" fill="#f4f4f4"/>
<rect x="1138" y="258" width="1" height="8" fill="#b42a44"/>
<rect x="1143" y="265" width="1" height="18" fill="#f4f4f4"/>
<rect x="1142" y="269" width="3" height="4" fill="#f4f4f4"/>
<rect x="1143" y="270" width="1" height="2" fill="#b42a44"/>
<rect x="1147" y="272" width="1" height="24" fill="#f4f4f4"/>
<rect x="1146" y="281" width="3" height="10" fill="#f4f4f4"/>
<rect x="1147" y="282" width="1" height="8" fill="#b42a44"/>
<rect x="1152" y="282" width="1" height="13" fill="#f4f4f4"/>
<rect x="1151" y="286" width="3" height="9" fill="#f4f4f4"/>
<rect x="1152" y="287" width="1" height="7" fill="#5ccd5c"/>
<rect x="1157" y="287" width="1" height="13" fill="#f4f4f4"/>
<rect x="1156" y="287" width="3" height="13" fill="#f4f4f4"/>
<rect x="1157" y="288" width="1" height="11" fill="#b42a44"/>
<rect x="1161" y="295" width="1" height="8" fill="#f4f4f4"/>
<rect x="1160" y="299" width="3" height="4" fill="#f4f4f4"/>
<rect x="1161" y="300" width="1" height="2" fill="#b42a44"/>
<rect x="1166" y="291" width="1" height="15" fill="#f4f4f4"/>
<rect x="1165" y="297" width="3" height="6" fill="#f4f4f4"/>
<rect x="1166" y="298" width="1" height="4" fill="#b42a44"/>
<rect x="1171" y="291" width="1" height="15" fill="#f4f4f4"/>
<rect x="1170" y="294" width="3" height="11" fill="#f4f4f4"/>
<rect x="1171" y="295" width="1" height="9" fill="#b42a44"/>
<rect x="1175" y="298" width="1" height="11" fill="#f4f4f4"/>
<rect x="1174" y="298" width="3" height="11" fill="#f4f4f4"/>
<rect x="1175" y="299" width="1" height="9" fill="#5ccd5c"/>
<rect x="1180" y="303" width="1" height="5" fill="#f4f4f4"/>
<rect x="1179" y="304" width="3" height="1" fill="#f4f4f4"/>
<rect x="1185" y="302" width="1" height="6" fill="#f4f4f4"/>
<rect x="1184" y="302" width="3" height="3" fill="#f4f4f4"/>
<rect x="1185" y="303" width="1" height="1" fill="#5ccd5c"/>
<rect x="1189" y="302" width="1" height="13" fill="#f4f4f4"/>
<rect x="1188" y="302" width="3" height="13" fill="#f4f4f4"/>
<rect x="1189" y="303" width="1" height="11" fill="#b42a44"/>
<rect x="1194" y="308" width="1" height="8" fill="#f4f4f4"/>
<rect x="1193" y="314" width="3" height="1" fill="#f4f4f4"/>
<rect x="1199" y="315" width="1" height="21" fill="#f4f4f4"/>
<rect x="1198" y="315" width="3" height="14" fill="#f4f4f4"/>
<rect x="1199" y="316" width="1" height="12" fill="#b42a44"/>
<rect x="1203" y="335" width="1" height="19" fill="#f4f4f4"/>
<rect x="1202" y="335" width="3" height="7" fill="#f4f4f4"/>
<rect x="1203" y="336" width="1" height="5" fill="#b42a44"/>
<rect x="1208" y="335" width="1" height="9" fill="#f4f4f4"/>
<rect x="1207" y="340" width="3" height="3" fill="#f4f4f4"/>
<rect x="1208" y="341" width="1" height="1" fill="#5ccd5c"/>
<rect x="1213" y="335" width="1" height="7" fill="#f4f4f4"/>
<rect x="1212" y="336" width="3" height="6" fill="#f4f4f4"/>
<rect x="1213" y="337" width="1" height="4" fill="#5ccd5c"/>
<rect x="1218" y="335" width="1" height="7" fill="#f4f4f4"/>
<rect x="1217" y="336" width="3" height="6" fill="#f4f4f4"/>
<rect x="1218" y="337" width="1" height="4" fill="#b42a44"/>
<rect x="1222" y="332" width="1" height="6" fill="#f4f4f4"/>
<rect x="1221" y="332" width="3" height="4" fill="#f4f4f4"/>
<rect x="1222" y="333" width="1" height="2" fill="#5ccd5c"/>
<rect x="1227" y="323" width="1" height="10" fill="#f4f4f4"/>
<rect x="1226" y="332" width="3" height="1" fill="#f4f4f4"/>
<rect x="1232" y="322" width="1" height="9" fill="#f4f4f4"/>
<rect x="1231" y="328" width="3" height="3" fill="#f4f4f4"/>
<rect x="1232" y="329" width="1" height="1" fill="#5ccd5c"/>
<rect x="1236" y="312" width="1" height="12" fill="#f4f4f4"/>
<rect x="1235" y="320" width="3" height="4" fill="#f4f4f4"/>
<rect x="1236" y="321" width="1" height="2" fill="#5ccd5c"/>
<rect x="1241" y="297" width="1" height="20" fill="#f4f4f4"/>
<rect x="1240" y="297" width="3" height="20" fill="#f4f4f4"/>
<rect x="1241" y="298" width="1" height="18" fill="#5ccd5c"/>
<rect x="1246" y="282" width="1" height="17" fill="#f4f4f4"/>
<rect x="1245" y="283" width="3" height="11" fill="#f4f4f4"/>
<rect x="1246" y="284" width="1" height="9" fill="#5ccd5c"/>
<rect x="1250" y="287" width="1" height="9" fill="#f4f4f4"/>
<rect x="1249" y="287" width="3" height="5" fill="#f4f4f4"/>
<rect x="1250" y="288" width="1" height="3" fill="#b42a44"/>
<rect x="1255" y="285" width="1" height="11" fill="#f4f4f4"/>
<rect x="1254" y="286" width="3" height="1" fill="#f4f4f4"/>
<rect x="1260" y="282" width="1" height="6" fill="#f4f4f4"/>
<rect x="1259" y="285" width="3" height="1" fill="#f4f4f4"/>
<rect x="1264" y="282" width="1" height="6" fill="#f4f4f4"/>
<rect x="1263" y="283" width="3" height="5" fill="#f4f4f4"/>
<rect x="1264" y="284" width="1" height="3" fill="#5ccd5c"/>
<rect x="1269" y="284" width="1" height="2" fill="#f4f4f4"/>
<rect x="1268" y="285" width="3" height="1" fill="#f4f4f4"/>
<rect x="1274" y="287" width="1" height="6" fill="#f4f4f4"/>
<rect x="1273" y="287" width="3" height="4" fill="#f4f4f4"/>
<rect x="1274" y="288" width="1" height="2" fill="#b42a44"/>
<rect x="1278" y="287" width="1" height="6" fill="#f4f4f4"/>
<rect x="1277" y="290" width="3" height="1" fill="#f4f4f4"/>
<rect x="1283" y="292" width="1" height="7" fill="#f4f4f4"/>
<rect x="1282" y="292" width="3" height="6" fill="#f4f4f4"/>
<rect x="1283" y="293" width="1" height="4" fill="#b42a44"/>
<rect x="1288" y="297" width="1" height="5" fill="#f4f4f4"/>
<rect x="1287" y="298" width="3" height="1" fill="#f4f4f4"/>
<rect x="1292" y="309" width="1" height="13" fill="#f4f4f4"/>
<rect x="1291" y="309" width="3" height="7" fill="#f4f4f4"/>
<rect x="1292" y="310" width="1" height="5" fill="#b42a44"/>
<rect x="1297" y="311" width="1" height="11" fill="#f4f4f4"/>
<rect x="1296" y="315" width="3" height="7" fill="#f4f4f4"/>
<rect x="1297" y="316" width="1" height="5" fill="#5ccd5c"/>
<rect x="1302" y="321" width="1" height="9" fill="#f4f4f4"/>
<rect x="1301" y="321" width="3" height="4" fill="#f4f4f4"/>
<rect x="1302" y="322" width="1" height="2" fill="#b42a44"/>
<rect x="1306" y="312" width="1" height="21" fill="#f4f4f4"/>
<rect x="1305" y="316" width="3" height="12" fill="#f4f4f4"/>
<rect x="1306" y="317" width="1" height="10" fill="#5ccd5c"/>
<rect x="1311" y="303" width="1" height="14" fill="#f4f4f4"/>
<rect x="1310" y="312" width="3" height="4" fill="#f4f4f4"/>
<rect x="1311" y="313" width="1" height="2" fill="#5ccd5c"/>
<rect x="1316" y="309" width="1" height="3" fill="#f4f4f4"/>
<rect x="1315" y="309" width="3" height="3" fill="#f4f4f4"/>
<rect x="1316" y="310" width="1" height="1" fill="#5ccd5c"/>
<rect x="1320" y="303" width="1" height="10" fill="#f4f4f4"/>
<rect x="1319" y="311" width="3" height="1" fill="#f4f4f4"/>
<rect x="1325" y="304" width="1" height="3" fill="#f4f4f4"/>
<rect x="1324" y="304" width="3" height="3" fill="#f4f4f4"/>
<rect x="1325" y="305" width="1" height="1" fill="#5ccd5c"/>
<rect x="1330" y="302" width="1" height="2" fill="#f4f4f4"/>
<rect x="1329" y="303" width="3" height="1" fill="#f4f4f4"/>
<rect x="1334" y="308" width="1" height="9" fill="#f4f4f4"/>
<rect x="1333" y="308" width="3" height="9" fill="#f4f4f4"/>
<rect x="1334" y="309" width="1" height="7" fill="#b42a44"/>
<rect x="1339" y="309" width="1" height="12" fill="#f4f4f4"/>
<rect x="1338" y="311" width="3" height="9" fill="#f4f4f4"/>
<rect x="1339" y="312" width="1" height="7" fill="#b42a44"/>
<rect x="1344" y="312" width="1" height="12" fill="#f4f4f4"/>
<rect x="1343" y="314" width="3" height="10" fill="#f4f4f4"/>
<rect x="1344" y="315" width="1" height="8" fill="#b42a44"/>
<rect x="1348" y="321" width="1" height="2" fill="#f4f4f4"/>
<rect x="1347" y="321" width="3" height="1" fill="#f4f4f4"/>
<rect x="1353" y="324" width="1" height="10" fill="#f4f4f4"/>
<rect x="1352" y="329" width="3" height="5" fill="#f4f4f4"/>
<rect x="1353" y="330" width="1" height="3" fill="#b42a44"/>
<rect x="1358" y="328" width="1" height="18" fill="#f4f4f4"/>
<rect x="1357" y="328" width="3" height="14" fill="#f4f4f4"/>
<rect x="1358" y="329" width="1" height="12" fill="#b42a44"/>
<rect x="1362" y="339" width="1" height="8" fill="#f4f4f4"/>
<rect x="1361" y="346" width="3" height="1" fill="#f4f4f4"/>
<rect x="1367" y="339" width="1" height="11" fill="#f4f4f4"/>
<rect x="1366" y="340" width="3" height="1" fill="#f4f4f4"/>
<rect x="1372" y="339" width="1" height="14" fill="#f4f4f4"/>
<rect x="1371" y="339" width="3" height="14" fill="#f4f4f4"/>
<rect x="1372" y="340" width="1" height="12" fill="#b42a44"/>
<rect x="1376" y="348" width="1" height="3" fill="#f4f4f4"/>
<rect x="1375" y="348" width="3" height="3" fill="#f4f4f4"/>
<rect x="1376" y="349" width="1" height="1" fill="#5ccd5c"/>
<rect x="1381" y="341" width="1" height="8" fill="#f4f4f4"/>
<rect x="1380" y="346" width="3" height="3" fill="#f4f4f4"/>
<rect x="1381" y="347" width="1" height="1" fill="#5ccd5c"/>
<rect x="1386" y="341" width="1" height="6" fill="#f4f4f4"/>
<rect x="1385" y="341" width="3" height="5" fill="#f4f4f4"/>
<rect x="1386" y="342" width="1" height="3" fill="#b42a44"/>
<rect x="1390" y="341" width="1" height="11" fill="#f4f4f4"/>
<rect x="1389" y="341" width="3" height="9" fill="#f4f4f4"/>
<rect x="1390" y="342" width="1" height="7" fill="#b42a44"/>
<rect x="1395" y="350" width="1" height="5" fill="#f4f4f4"/>
<rect x="1394" y="350" width="3" height="3" fill="#f4f4f4"/>
<rect x="1395" y="351" width="1" height="1" fill="#b42a44"/>
<rect x="1400" y="352" width="1" height="21" fill="#f4f4f4"/>
<rect x="1399" y="352" width="3" height="21" fill="#f4f4f4"/>
<rect x="1400" y="353" width="1" height="19" fill="#b42a44"/>
<rect x="1404" y="363" width="1" height="13" fill="#f4f4f4"/>
<rect x="1403" y="371" width="3" height="5" fill="#f4f4f4"/>
<rect x="1404" y="372" width="1" height="3" fill="#b42a44"/>
<rect x="1409" y="368" width="1" height="26" fill="#f4f4f4"/>
<rect x="1408" y="372" width="3" height="21" fill="#f4f4f4"/>
<rect x="1409" y="373" width="1" height="19" fill="#b42a44"/>
<rect x="1414" y="398" width="1" height="22" fill="#f4f4f4"/>
<rect x="1413" y="400" width="3" height="1" fill="#f4f4f4"/>
<rect x="1418" y="403" width="1" height="4" fill="#f4f4f4"/>
<rect x="1417" y="405" width="3" height="1" fill="#f4f4f4"/>
<rect x="1423" y="398" width="1" height="9" fill="#f4f4f4"/>
<rect x="1422" y="399" width="3" height="7" fill="#f4f4f4"/>
<rect x="1423" y="400" width="1" height="5" fill="#b42a44"/>
<rect x="1428" y="398" width="1" height="9" fill="#f4f4f4"/>
<rect x="1427" y="404" width="3" height="1" fill="#f4f4f4"/>
<rect x="1432" y="401" width="1" height="6" fill="#f4f4f4"/>
<rect x="1431" y="401" width="3" height="6" fill="#f4f4f4"/>
<rect x="1432" y="402" width="1" height="4" fill="#5ccd5c"/>
<rect x="1437" y="407" width="1" height="5" fill="#f4f4f4"/>
<rect x="1436" y="408" width="3" height="1" fill="#f4f4f4"/>
<rect x="1442" y="402" width="1" height="19" fill="#f4f4f4"/>
<rect x="1441" y="402" width="3" height="9" fill="#f4f4f4"/>
<rect x="1442" y="403" width="1" height="7" fill="#b42a44"/>
<rect x="1446" y="409" width="1" height="8" fill="#f4f4f4"/>
<rect x="1445" y="410" width="3" height="1" fill="#f4f4f4"/>
<rect x="1451" y="409" width="1" height="10" fill="#f4f4f4"/>
<rect x="1450" y="410" width="3" height="1" fill="#f4f4f4"/>
<rect x="1456" y="411" width="1" height="9" fill="#f4f4f4"/>
<rect x="1455" y="411" width="3" height="9" fill="#f4f4f4"/>
<rect x="1456" y="412" width="1" height="7" fill="#b42a44"/>
<rect x="1460" y="413" width="1" height="8" fill="#f4f4f4"/>
<rect x="1459" y="413" width="3" height="7" fill="#f4f4f4"/>
<rect x="1460" y="414" width="1" height="5" fill="#b42a44"/>
<rect x="1465" y="414" width="1" height="2" fill="#f4f4f4"/>
<rect x="1464" y="415" width="3" height="1" fill="#f4f4f4"/>
<rect x="1470" y="419" width="1" height="8" fill="#f4f4f4"/>
<rect x="1469" y="419" width="3" height="7" fill="#f4f4f4"/>
<rect x="1470" y="420" width="1" height="5" fill="#b42a44"/>
<rect x="1474" y="420" width="1" height="23" fill="#f4f4f4"/>
<rect x="1473" y="423" width="3" height="19" fill="#f4f4f4"/>
<rect x="1474" y="424" width="1" height="17" fill="#b42a44"/>
<rect x="1479" y="439" width="1" height="16" fill="#f4f4f4"/>
<rect x="1478" y="439" width="3" height="15" fill="#f4f4f4"/>
<rect x="1479" y="440" width="1" height="13" fill="#b42a44"/>
<rect x="1484" y="450" width="1" height="19" fill="#f4f4f4"/>
<rect x="1483" y="450" width="3" height="19" fill="#f4f4f4"/>
<rect x="1484" y="451" width="1" height="17" fill="#b42a44"/>
<rect x="1488" y="464" width="1" height="18" fill="#f4f4f4"/>
<rect x="1487" y="464" width="3" height="14" fill="#f4f4f4"/>
<rect x="1488" y="465" width="1" height="12" fill="#b42a44"/>
<rect x="1493" y="471" width="1" height="7" fill="#f4f4f4"/>
<rect x="1492" y="475" width="3" height="1" fill="#f4f4f4"/>
<rect x="1498" y="473" width="1" height="2" fill="#f4f4f4"/>
<rect x="1497" y="474" width="3" height="1" fill="#f4f4f4"/>
<rect x="1502" y="468" width="1" height="7" fill="#f4f4f4"/>
<rect x="1501" y="473" width="3" height="1" fill="#f4f4f4"/>
<rect x="1507" y="469" width="1" height="6" fill="#f4f4f4"/>
<rect x="1506" y="469" width="3" height="6" fill="#f4f4f4"/>
<rect x="1507" y="470" width="1" height="4" fill="#b42a44"/>
<rect x="1512" y="468" width="1" height="10" fill="#f4f4f4"/>
<rect x="1511" y="470" width="3" height="6" fill="#f4f4f4"/>
<rect x="1512" y="471" width="1" height="4" fill="#b42a44"/>
<rect x="1516" y="468" width="1" height="7" fill="#f4f4f4"/>
<rect x="1515" y="470" width="3" height="1" fill="#f4f4f4"/>
<rect x="1521" y="461" width="1" height="14" fill="#f4f4f4"/>
<rect x="1520" y="465" width="3" height="6" fill="#f4f4f4"/>
<rect x="1521" y="466" width="1" height="4" fill="#b42a44"/>
<rect x="1526" y="462" width="1" height="9" fill="#f4f4f4"/>
<rect x="1525" y="470" width="3" height="1" fill="#f4f4f4"/>
<rect x="1530" y="466" width="1" height="5" fill="#f4f4f4"/>
<rect x="1529" y="468" width="3" height="1" fill="#f4f4f4"/>
<rect x="1535" y="466" width="1" height="5" fill="#f4f4f4"/>
<rect x="1534" y="466" width="3" height="5" fill="#f4f4f4"/>
<rect x="1535" y="467" width="1" height="3" fill="#b42a44"/>
<rect x="1540" y="465" width="1" height="7" fill="#f4f4f4"/>
<rect x="1539" y="465" width="3" height="7" fill="#f4f4f4"/>
<rect x="1540" y="466" width="1" height="5" fill="#5ccd5c"/>
<rect x="1544" y="473" width="1" height="2" fill="#f4f4f4"/>
<rect x="1543" y="474" width="3" height="1" fill="#f4f4f4"/>
<rect x="1549" y="464" width="1" height="12" fill="#f4f4f4"/>
<rect x="1548" y="469" width="3" height="1" fill="#f4f4f4"/>
<rect x="1554" y="470" width="1" height="8" fill="#f4f4f4"/>
<rect x="1553" y="472" width="3" height="5" fill="#f4f4f4"/>
<rect x="1554" y="473" width="1" height="3" fill="#b42a44"/>
<rect x="1558" y="470" width="1" height="7" fill="#f4f4f4"/>
<rect x="1557" y="471" width="3" height="1" fill="#f4f4f4"/>
<rect x="1563" y="461" width="1" height="14" fill="#f4f4f4"/>
<rect x="1562" y="472" width="3" height="1" fill="#f4f4f4"/>
<rect x="1568" y="446" width="1" height="25" fill="#f4f4f4"/>
<rect x="1567" y="459" width="3" height="8" fill="#f4f4f4"/>
<rect x="1568" y="460" width="1" height="6" fill="#b42a44"/>
<rect x="1572" y="460" width="1" height="9" fill="#f4f4f4"/>
<rect x="1571" y="463" width="3" height="4" fill="#f4f4f4"/>
<rect x="1572" y="464" width="1" height="2" fill="#5ccd5c"/>
<rect x="1577" y="444" width="1" height="21" fill="#f4f4f4"/>
<rect x="1576" y="444" width="3" height="19" fill="#f4f4f4"/>
<rect x="1577" y="445" width="1" height="17" fill="#5ccd5c"/>
<rect x="1582" y="394" width="1" height="53" fill="#f4f4f4"/>
<rect x="1581" y="394" width="3" height="51" fill="#f4f4f4"/>
<rect x="1582" y="395" width="1" height="49" fill="#5ccd5c"/>
<rect x="1586" y="374" width="1" height="37" fill="#f4f4f4"/>
<rect x="1585" y="392" width="3" height="19" fill="#f4f4f4"/>
<rect x="1586" y="393" width="1" height="17" fill="#b42a44"/>
<rect x="1591" y="394" width="1" height="30" fill="#f4f4f4"/>
<rect x="1590" y="407" width="3" height="14" fill="#f4f4f4"/>
<rect x="1591" y="408" width="1" height="12" fill="#b42a44"/>
<rect x="1596" y="413" width="1" height="22" fill="#f4f4f4"/>
<rect x="1595" y="413" width="3" height="7" fill="#f4f4f4"/>
<rect x="1596" y="414" width="1" height="5" fill="#5ccd5c"/>
<rect x="1601" y="415" width="1" height="9" fill="#f4f4f4"/>
<rect x="1600" y="421" width="3" height="1" fill="#f4f4f4"/>
<rect x="68" y="839" width="3" height="67" fill="#f4f4f4"/>
<rect x="69" y="840" width="1" height="65" fill="#5ccd5c"/>
<rect x="72" y="829" width="3" height="77" fill="#f4f4f4"/>
<rect x="73" y="830" width="1" height="75" fill="#b42a44"/>
<rect x="77" y="887" width="3" height="19" fill="#f4f4f4"/>
<rect x="78" y="888" width="1" height="17" fill="#b42a44"/>
<rect x="82" y="865" width="3" height="41" fill="#f4f4f4"/>
<rect x="83" y="866" width="1" height="39" fill="#5ccd5c"/>
<rect x="86" y="901" width="3" height="5" fill="#f4f4f4"/>
<rect x="87" y="902" width="1" height="3" fill="#b42a44"/>
<rect x="91" y="902" width="3" height="4" fill="#f4f4f4"/>
<rect x="92" y="903" width="1" height="2" fill="#b42a44"/>
<rect x="96" y="894" width="3" height="12" fill="#f4f4f4"/>
<rect x="97" y="895" width="1" height="10" fill="#b42a44"/>
<rect x="100" y="904" width="3" height="2" fill="#f4f4f4"/>
<rect x="105" y="904" width="3" height="2" fill="#f4f4f4"/>
<rect x="110" y="905" width="3" height="1" fill="#5ccd5c"/>
<rect x="114" y="902" width="3" height="4" fill="#f4f4f4"/>
<rect x="115" y="903" width="1" height="2" fill="#b42a44"/>
<rect x="119" y="903" width="3" height="3" fill="#f4f4f4"/>
<rect x="124" y="904" width="3" height="2" fill="#f4f4f4"/>
<rect x="128" y="902" width="3" height="4" fill="#f4f4f4"/>
<rect x="129" y="903" width="1" height="2" fill="#5ccd5c"/>
<rect x="133" y="905" width="3" height="1" fill="#b42a44"/>
<rect x="138" y="899" width="3" height="7" fill="#f4f4f4"/>
<rect x="139" y="900" width="1" height="5" fill="#5ccd5c"/>
<rect x="142" y="904" width="3" height="2" fill="#f4f4f4"/>
<rect x="147" y="903" width="3" height="3" fill="#f4f4f4"/>
<rect x="152" y="904" width="3" height="2" fill="#f4f4f4"/>
<rect x="156" y="905" width="3" height="1" fill="#5ccd5c"/>
<rect x="161" y="904" width="3" height="2" fill="#f4f4f4"/>
<rect x="166" y="904" width="3" height="2" fill="#f4f4f4"/>
<rect x="170" y="903" width="3" height="3" fill="#f4f4f4"/>
<rect x="175" y="904" width="3" height="2" fill="#f4f4f4"/>
<rect x="180" y="905" width="3" height="1" fill="#b42a44"/>
<rect x="184" y="896" width="3" height="10" fill="#f4f4f4"/>
<rect x="185" y="897" width="1" height="8" fill="#b42a44"/>
<rect x="189" y="901" width="3" height="5" fill="#f4f4f4"/>
<rect x="190" y="902" width="1" height="3" fill="#b42a44"/>
<rect x="194" y="903" width="3" height="3" fill="#f4f4f4"/>
<rect x="198" y="901" width="3" height="5" fill="#f4f4f4"/>
<rect x="199" y="902" width="1" height="3" fill="#b42a44"/>
<rect x="203" y="905" width="3" height="1" fill="#b42a44"/>
<rect x="208" y="905" width="3" height="1" fill="#5ccd5c"/>
<rect x="212" y="901" width="3" height="5" fill="#f4f4f4"/>
<rect x="213" y="902" width="1" height="3" fill="#5ccd5c"/>
<rect x="217" y="903" width="3" height="3" fill="#f4f4f4"/>
<rect x="222" y="905" width="3" height="1" fill="#5ccd5c"/>
<rect x="226" y="902" width="3" height="4" fill="#f4f4f4"/>
<rect x="227" y="903" width="1" height="2" fill="#5ccd5c"/>
<rect x="231" y="895" width="3" height="11" fill="#f4f4f4"/>
<rect x="232" y="896" width="1" height="9" fill="#5ccd5c"/>
<rect x="236" y="899" width="3" height="7" fill="#f4f4f4"/>
<rect x="237" y="900" width="1" height="5" fill="#b42a44"/>
<rect x="240" y="883" width="3" height="23" fill="#f4f4f4"/>
<rect x="241" y="884" width="1" height="21" fill="#5ccd5c"/>
<rect x="245" y="857" width="3" height="49" fill="#f4f4f4"/>
<rect x="246" y="858" width="1" height="47" fill="#b42a44"/>
<rect x="250" y="891" width="3" height="15" fill="#f4f4f4"/>
<rect x="251" y="892" width="1" height="13" fill="#5ccd5c"/>
<rect x="254" y="896" width="3" height="10" fill="#f4f4f4"/>
<rect x="255" y="897" width="1" height="8" fill="#5ccd5c"/>
<rect x="259" y="902" width="3" height="4" fill="#f4f4f4"/>
<rect x="260" y="903" width="1" height="2" fill="#b42a44"/>
<rect x="264" y="892" width="3" height="14" fill="#f4f4f4"/>
<rect x="265" y="893" width="1" height="12" fill="#5ccd5c"/>
<rect x="268" y="900" width="3" height="6" fill="#f4f4f4"/>
<rect x="269" y="901" width="1" height="4" fill="#5ccd5c"/>
<rect x="273" y="890" width="3" height="16" fill="#f4f4f4"/>
<rect x="274" y="891" width="1" height="14" fill="#b42a44"/>
<rect x="278" y="900" width="3" height="6" fill="#f4f4f4"/>
<rect x="279" y="901" width="1" height="4" fill="#b42a44"/>
<rect x="282" y="902" width="3" height="4" fill="#f4f4f4"/>
<rect x="283" y="903" width="1" height="2" fill="#b42a44"/>
<rect x="287" y="904" width="3" height="2" fill="#f4f4f4"/>
<rect x="292" y="904" width="3" height="2" fill="#f4f4f4"/>
<rect x="296" y="904" width="3" height="2" fill="#f4f4f4"/>
<rect x="301" y="901" width="3" height="5" fill="#f4f4f4"/>
<rect x="302" y="902" width="1" height="3" fill="#b42a44"/>
<rect x="306" y="903" width="3" height="3" fill="#f4f4f4"/>
<rect x="310" y="899" width="3" height="7" fill="#f4f4f4"/>
<rect x="311" y="900" width="1" height="5" fill="#5ccd5c"/>
<rect x="315" y="899" width="3" height="7" fill="#f4f4f4"/>
<rect x="316" y="900" width="1" height="5" fill="#b42a44"/>
<rect x="320" y="905" width="3" height="1" fill="#b42a44"/>
<rect x="324" y="903" width="3" height="3" fill="#f4f4f4"/>
<rect x="329" y="892" width="3" height="14" fill="#f4f4f4"/>
<rect x="330" y="893" width="1" height="12" fill="#b42a44"/>
<rect x="334" y="901" width="3" height="5" fill="#f4f4f4"/>
<rect x="335" y="902" width="1" height="3" fill="#5ccd5c"/>
<rect x="338" y="900" width="3" height="6" fill="#f4f4f4"/>
<rect x="339" y="901" width="1" height="4" fill="#b42a44"/>
<rect x="343" y="904" width="3" height="2" fill="#f4f4f4"/>
<rect x="348" y="902" width="3" height="4" fill="#f4f4f4"/>
<rect x="349" y="903" width="1" height="2" fill="#000"/>
<rect x="352" y="888" width="3" height="18" fill="#f4f4f4"/>
<rect x="353" y="889" width="1" height="16" fill="#b42a44"/>
<rect x="357" y="903" width="3" height="3" fill="#f4f4f4"/>
<rect x="362" y="903" width="3" height="3" fill="#f4f4f4"/>
<rect x="366" y="904" width="3" height="2" fill="#f4f4f4"/>
<rect x="371" y="900" width="3" height="6" fill="#f4f4f4"/>
<rect x="372" y="901" width="1" height="4" fill="#5ccd5c"/>
<rect x="376" y="904" width="3" height="2" fill="#f4f4f4"/>
<rect x="380" y="897" width="3" height="9" fill="#f4f4f4"/>
<rect x="381" y="898" width="1" height="7" fill="#5ccd5c"/>
<rect x="385" y="905" width="3" height="1" fill="#5ccd5c"/>
<rect x="390" y="900" width="3" height="6" fill="#f4f4f4"/>
<rect x="391" y="901" width="1" height="4" fill="#5ccd5c"/>
<rect x="394" y="900" width="3" height="6" fill="#f4f4f4"/>
<rect x="395" y="901" width="1" height="4" fill="#b42a44"/>
<rect x="399" y="891" width="3" height="15" fill="#f4f4f4"/>
<rect x="400" y="892" width="1" height="13" fill="#b42a44"/>
<rect x="404" y="904" width="3" height="2" fill="#f4f4f4"/>
<rect x="408" y="905" width="3" height="1" fill="#5ccd5c"/>
<rect x="413" y="905" width="3" height="1" fill="#5ccd5c"/>
<rect x="418" y="904" width="3" height="2" fill="#f4f4f4"/>
<rect x="422" y="900" width="3" height="6" fill="#f4f4f4"/>
<rect x="423" y="901" width="1" height="4" fill="#b42a44"/>
<rect x="427" y="903" width="3" height="3" fill="#f4f4f4"/>
<rect x="432" y="905" width="3" height="1" fill="#5ccd5c"/>
<rect x="436" y="905" width="3" height="1" fill="#5ccd5c"/>
<rect x="441" y="905" width="3" height="1" fill="#5ccd5c"/>
<rect x="446" y="902" width="3" height="4" fill="#f4f4f4"/>
<rect x="447" y="903" width="1" height="2" fill="#000"/>
<rect x="451" y="903" width="3" height="3" fill="#f4f4f4"/>
<rect x="455" y="905" width="3" height="1" fill="#5ccd5c"/>
<rect x="460" y="905" width="3" height="1" fill="#b42a44"/>
<rect x="465" y="900" width="3" height="6" fill="#f4f4f4"/>
<rect x="466" y="901" width="1" height="4" fill="#b42a44"/>
<rect x="469" y="904" width="3" height="2" fill="#f4f4f4"/>
<rect x="474" y="905" width="3" height="1" fill="#5ccd5c"/>
<rect x="479" y="905" width="3" height="1" fill="#b42a44"/>
<rect x="483" y="904" width="3" height="2" fill="#f4f4f4"/>
<rect x="488" y="905" width="3" height="1" fill="#b42a44"/>
<rect x="493" y="905" width="3" height="1" fill="#5ccd5c"/>
<rect x="497" y="905" width="3" height="1" fill="#5ccd5c"/>
<rect x="502" y="900" width="3" height="6" fill="#f4f4f4"/>
<rect x="503" y="901" width="1" height="4" fill="#5ccd5c"/>
<rect x="507" y="899" width="3" height="7" fill="#f4f4f4"/>
<rect x="508" y="900" width="1" height="5" fill="#5ccd5c"/>
<rect x="511" y="903" width="3" height="3" fill="#f4f4f4"/>
<rect x="516" y="901" width="3" height="5" fill="#f4f4f4"/>
<rect x="517" y="902" width="1" height="3" fill="#b42a44"/>
<rect x="521" y="903" width="3" height="3" fill="#f4f4f4"/>
<rect x="525" y="904" width="3" height="2" fill="#f4f4f4"/>
<rect x="530" y="905" width="3" height="1" fill="#b42a44"/>
<rect x="535" y="905" width="3" height="1" fill="#b42a44"/>
<rect x="539" y="905" width="3" height="1" fill="#b42a44"/>
<rect x="544" y="904" width="3" height="2" fill="#f4f4f4"/>
<rect x="549" y="904" width="3" height="2" fill="#f4f4f4"/>
<rect x="553" y="902" width="3" height="4" fill="#f4f4f4"/>
<rect x="554" y="903" width="1" height="2" fill="#5ccd5c"/>
<rect x="558" y="904" width="3" height="2" fill="#f4f4f4"/>
<rect x="563" y="905" width="3" height="1" fill="#5ccd5c"/>
<rect x="567" y="905" width="3" height="1" fill="#b42a44"/>
<rect x="572" y="905" width="3" height="1" fill="#5ccd5c"/>
<rect x="577" y="903" width="3" height="3" fill="#f4f4f4"/>
<rect x="581" y="902" width="3" height="4" fill="#f4f4f4"/>
<rect x="582" y="903" width="1" height="2" fill="#000"/>
<rect x="586" y="903" width="3" height="3" fill="#f4f4f4"/>
<rect x="591" y="902" width="3" height="4" fill="#f4f4f4"/>
<rect x="592" y="903" width="1" height="2" fill="#b42a44"/>
<rect x="595" y="904" width="3" height="2" fill="#f4f4f4"/>
<rect x="600" y="903" width="3" height="3" fill="#f4f4f4"/>
<rect x="605" y="903" width="3" height="3" fill="#f4f4f4"/>
<rect x="609" y="904" width="3" height="2" fill="#f4f4f4"/>
<rect x="614" y="903" width="3" height="3" fill="#f4f4f4"/>
<rect x="619" y="905" width="3" height="1" fill="#b42a44"/>
<rect x="623" y="903" width="3" height="3" fill="#f4f4f4"/>
<rect x="628" y="849" width="3" height="57" fill="#f4f4f4"/>
<rect x="629" y="850" width="1" height="55" fill="#5ccd5c"/>
<rect x="633" y="877" width="3" height="29" fill="#f4f4f4"/>
<rect x="634" y="878" width="1" height="27" fill="#b42a44"/>
<rect x="637" y="899" width="3" height="7" fill="#f4f4f4"/>
<rect x="638" y="900" width="1" height="5" fill="#b42a44"/>
<rect x="642" y="899" width="3" height="7" fill="#f4f4f4"/>
<rect x="643" y="900" width="1" height="5" fill="#b42a44"/>
<rect x="647" y="894" width="3" height="12" fill="#f4f4f4"/>
<rect x="648" y="895" width="1" height="10" fill="#b42a44"/>
<rect x="651" y="881" width="3" height="25" fill="#f4f4f4"/>
<rect x="652" y="882" width="1" height="23" fill="#5ccd5c"/>
<rect x="656" y="882" width="3" height="24" fill="#f4f4f4"/>
<rect x="657" y="883" width="1" height="22" fill="#b42a44"/>
<rect x="661" y="895" width="3" height="11" fill="#f4f4f4"/>
<rect x="662" y="896" width="1" height="9" fill="#b42a44"/>
<rect x="665" y="886" width="3" height="20" fill="#f4f4f4"/>
<rect x="666" y="887" width="1" height="18" fill="#5ccd5c"/>
<rect x="670" y="900" width="3" height="6" fill="#f4f4f4"/>
<rect x="671" y="901" width="1" height="4" fill="#b42a44"/>
<rect x="675" y="903" width="3" height="3" fill="#f4f4f4"/>
<rect x="679" y="900" width="3" height="6" fill="#f4f4f4"/>
<rect x="680" y="901" width="1" height="4" fill="#5ccd5c"/>
<rect x="684" y="899" width="3" height="7" fill="#f4f4f4"/>
<rect x="685" y="900" width="1" height="5" fill="#b42a44"/>
<rect x="689" y="903" width="3" height="3" fill="#f4f4f4"/>
<rect x="693" y="896" width="3" height="10" fill="#f4f4f4"/>
<rect x="694" y="897" width="1" height="8" fill="#5ccd5c"/>
<rect x="698" y="901" width="3" height="5" fill="#f4f4f4"/>
<rect x="699" y="902" width="1" height="3" fill="#5ccd5c"/>
<rect x="703" y="891" width="3" height="15" fill="#f4f4f4"/>
<rect x="704" y="892" width="1" height="13" fill="#5ccd5c"/>
<rect x="707" y="896" width="3" height="10" fill="#f4f4f4"/>
<rect x="708" y="897" width="1" height="8" fill="#b42a44"/>
<rect x="712" y="899" width="3" height="7" fill="#f4f4f4"/>
<rect x="713" y="900" width="1" height="5" fill="#b42a44"/>
<rect x="717" y="899" width="3" height="7" fill="#f4f4f4"/>
<rect x="718" y="900" width="1" height="5" fill="#b42a44"/>
<rect x="721" y="903" width="3" height="3" fill="#f4f4f4"/>
<rect x="726" y="903" width="3" height="3" fill="#f4f4f4"/>
<rect x="731" y="903" width="3" height="3" fill="#f4f4f4"/>
<rect x="735" y="885" width="3" height="21" fill="#f4f4f4"/>
<rect x="736" y="886" width="1" height="19" fill="#5ccd5c"/>
<rect x="740" y="861" width="3" height="45" fill="#f4f4f4"/>
<rect x="741" y="862" width="1" height="43" fill="#b42a44"/>
<rect x="745" y="898" width="3" height="8" fill="#f4f4f4"/>
<rect x="746" y="899" width="1" height="6" fill="#5ccd5c"/>
<rect x="749" y="903" width="3" height="3" fill="#f4f4f4"/>
<rect x="754" y="902" width="3" height="4" fill="#f4f4f4"/>
<rect x="755" y="903" width="1" height="2" fill="#000"/>
<rect x="759" y="904" width="3" height="2" fill="#f4f4f4"/>
<rect x="763" y="904" width="3" height="2" fill="#f4f4f4"/>
<rect x="768" y="898" width="3" height="8" fill="#f4f4f4"/>
<rect x="769" y="899" width="1" height="6" fill="#b42a44"/>
<rect x="773" y="905" width="3" height="1" fill="#b42a44"/>
<rect x="777" y="896" width="3" height="10" fill="#f4f4f4"/>
<rect x="778" y="897" width="1" height="8" fill="#b42a44"/>
<rect x="782" y="880" width="3" height="26" fill="#f4f4f4"/>
<rect x="783" y="881" width="1" height="24" fill="#b42a44"/>
<rect x="787" y="902" width="3" height="4" fill="#f4f4f4"/>
<rect x="788" y="903" width="1" height="2" fill="#000"/>
<rect x="791" y="902" width="3" height="4" fill="#f4f4f4"/>
<rect x="792" y="903" width="1" height="2" fill="#000"/>
<rect x="796" y="902" width="3" height="4" fill="#f4f4f4"/>
<rect x="797" y="903" width="1" height="2" fill="#000"/>
<rect x="801" y="903" width="3" height="3" fill="#f4f4f4"/>
<rect x="805" y="895" width="3" height="11" fill="#f4f4f4"/>
<rect x="806" y="896" width="1" height="9" fill="#b42a44"/>
<rect x="810" y="899" width="3" height="7" fill="#f4f4f4"/>
<rect x="811" y="900" width="1" height="5" fill="#5ccd5c"/>
<rect x="815" y="902" width="3" height="4" fill="#f4f4f4"/>
<rect x="816" y="903" width="1" height="2" fill="#000"/>
<rect x="819" y="904" width="3" height="2" fill="#f4f4f4"/>
<rect x="824" y="905" width="3" height="1" fill="#b42a44"/>
<rect x="829" y="897" width="3" height="9" fill="#f4f4f4"/>
<rect x="830" y="898" width="1" height="7" fill="#5ccd5c"/>
<rect x="834" y="900" width="3" height="6" fill="#f4f4f4"/>
<rect x="835" y="901" width="1" height="4" fill="#b42a44"/>
<rect x="838" y="894" width="3" height="12" fill="#f4f4f4"/>
<rect x="839" y="895" width="1" height="10" fill="#b42a44"/>
<rect x="843" y="901" width="3" height="5" fill="#f4f4f4"/>
<rect x="844" y="902" width="1" height="3" fill="#b42a44"/>
<rect x="848" y="904" width="3" height="2" fill="#f4f4f4"/>
<rect x="852" y="896" width="3" height="10" fill="#f4f4f4"/>
<rect x="853" y="897" width="1" height="8" fill="#5ccd5c"/>
<rect x="857" y="901" width="3" height="5" fill="#f4f4f4"/>
<rect x="858" y="902" width="1" height="3" fill="#b42a44"/>
<rect x="862" y="902" width="3" height="4" fill="#f4f4f4"/>
<rect x="863" y="903" width="1" height="2" fill="#b42a44"/>
<rect x="866" y="905" width="3" height="1" fill="#b42a44"/>
<rect x="871" y="902" width="3" height="4" fill="#f4f4f4"/>
<rect x="872" y="903" width="1" height="2" fill="#000"/>
<rect x="876" y="904" width="3" height="2" fill="#f4f4f4"/>
<rect x="880" y="903" width="3" height="3" fill="#f4f4f4"/>
<rect x="885" y="904" width="3" height="2" fill="#f4f4f4"/>
<rect x="890" y="903" width="3" height="3" fill="#f4f4f4"/>
<rect x="894" y="901" width="3" height="5" fill="#f4f4f4"/>
<rect x="895" y="902" width="1" height="3" fill="#b42a44"/>
<rect x="899" y="904" width="3" height="2" fill="#f4f4f4"/>
<rect x="904" y="904" width="3" height="2" fill="#f4f4f4"/>
<rect x="908" y="904" width="3" height="2" fill="#f4f4f4"/>
<rect x="913" y="904" width="3" height="2" fill="#f4f4f4"/>
<rect x="918" y="905" width="3" height="1" fill="#5ccd5c"/>
<rect x="922" y="903" width="3" height="3" fill="#f4f4f4"/>
<rect x="927" y="904" width="3" height="2" fill="#f4f4f4"/>
<rect x="932" y="903" width="3" height="3" fill="#f4f4f4"/>
<rect x="936" y="904" width="3" height="2" fill="#f4f4f4"/>
<rect x="941" y="905" width="3" height="1" fill="#5ccd5c"/>
<rect x="946" y="905" width="3" height="1" fill="#5ccd5c"/>
<rect x="950" y="904" width="3" height="2" fill="#f4f4f4"/>
<rect x="955" y="905" width="3" height="1" fill="#5ccd5c"/>
<rect x="960" y="905" width="3" height="1" fill="#5ccd5c"/>
<rect x="964" y="904" width="3" height="2" fill="#f4f4f4"/>
<rect x="969" y="903" width="3" height="3" fill="#f4f4f4"/>
<rect x="974" y="905" width="3" height="1" fill="#5ccd5c"/>
<rect x="978" y="900" width="3" height="6" fill="#f4f4f4"/>
<rect x="979" y="901" width="1" height="4" fill="#b42a44"/>
<rect x="983" y="900" width="3" height="6" fill="#f4f4f4"/>
<rect x="984" y="901" width="1" height="4" fill="#b42a44"/>
<rect x="988" y="897" width="3" height="9" fill="#f4f4f4"/>
<rect x="989" y="898" width="1" height="7" fill="#5ccd5c"/>
<rect x="992" y="900" width="3" height="6" fill="#f4f4f4"/>
<rect x="993" y="901" width="1" height="4" fill="#b42a44"/>
<rect x="997" y="904" width="3" height="2" fill="#f4f4f4"/>
<rect x="1002" y="901" width="3" height="5" fill="#f4f4f4"/>
<rect x="1003" y="902" width="1" height="3" fill="#5ccd5c"/>
<rect x="1006" y="902" width="3" height="4" fill="#f4f4f4"/>
<rect x="1007" y="903" width="1" height="2" fill="#b42a44"/>
<rect x="1011" y="899" width="3" height="7" fill="#f4f4f4"/>
<rect x="1012" y="900" width="1" height="5" fill="#5ccd5c"/>
<rect x="1016" y="905" width="3" height="1" fill="#b42a44"/>
<rect x="1020" y="905" width="3" height="1" fill="#b42a44"/>
<rect x="1025" y="905" width="3" height="1" fill="#5ccd5c"/>
<rect x="1030" y="905" width="3" height="1" fill="#5ccd5c"/>
<rect x="1034" y="904" width="3" height="2" fill="#f4f4f4"/>
<rect x="1039" y="905" width="3" height="1" fill="#b42a44"/>
<rect x="1044" y="904" width="3" height="2" fill="#f4f4f4"/>
<rect x="1048" y="904" width="3" height="2" fill="#f4f4f4"/>
<rect x="1053" y="904" width="3" height="2" fill="#f4f4f4"/>
<rect x="1058" y="904" width="3" height="2" fill="#f4f4f4"/>
<rect x="1062" y="902" width="3" height="4" fill="#f4f4f4"/>
<rect x="1063" y="903" width="1" height="2" fill="#000"/>
<rect x="1067" y="902" width="3" height="4" fill="#f4f4f4"/>
<rect x="1068" y="903" width="1" height="2" fill="#000"/>
<rect x="1072" y="901" width="3" height="5" fill="#f4f4f4"/>
<rect x="1073" y="902" width="1" height="3" fill="#5ccd5c"/>
<rect x="1076" y="902" width="3" height="4" fill="#f4f4f4"/>
<rect x="1077" y="903" width="1" height="2" fill="#5ccd5c"/>
<rect x="1081" y="904" width="3" height="2" fill="#f4f4f4"/>
<rect x="1086" y="901" width="3" height="5" fill="#f4f4f4"/>
<rect x="1087" y="902" width="1" height="3" fill="#b42a44"/>
<rect x="1090" y="894" width="3" height="12" fill="#f4f4f4"/>
<rect x="1091" y="895" width="1" height="10" fill="#b42a44"/>
<rect x="1095" y="898" width="3" height="8" fill="#f4f4f4"/>
<rect x="1096" y="899" width="1" height="6" fill="#b42a44"/>
<rect x="1100" y="883" width="3" height="23" fill="#f4f4f4"/>
<rect x="1101" y="884" width="1" height="21" fill="#b42a44"/>
<rect x="1104" y="900" width="3" height="6" fill="#f4f4f4"/>
<rect x="1105" y="901" width="1" height="4" fill="#5ccd5c"/>
<rect x="1109" y="901" width="3" height="5" fill="#f4f4f4"/>
<rect x="1110" y="902" width="1" height="3" fill="#5ccd5c"/>
<rect x="1114" y="898" width="3" height="8" fill="#f4f4f4"/>
<rect x="1115" y="899" width="1" height="6" fill="#b42a44"/>
<rect x="1118" y="903" width="3" height="3" fill="#f4f4f4"/>
<rect x="1123" y="900" width="3" height="6" fill="#f4f4f4"/>
<rect x="1124" y="901" width="1" height="4" fill="#5ccd5c"/>
<rect x="1128" y="901" width="3" height="5" fill="#f4f4f4"/>
<rect x="1129" y="902" width="1" height="3" fill="#5ccd5c"/>
<rect x="1132" y="900" width="3" height="6" fill="#f4f4f4"/>
<rect x="1133" y="901" width="1" height="4" fill="#b42a44"/>
<rect x="1137" y="861" width="3" height="45" fill="#f4f4f4"/>
<rect x="1138" y="862" width="1" height="43" fill="#b42a44"/>
<rect x="1142" y="894" width="3" height="12" fill="#f4f4f4"/>
<rect x="1143" y="895" width="1" height="10" fill="#b42a44"/>
<rect x="1146" y="893" width="3" height="13" fill="#f4f4f4"/>
<rect x="1147" y="894" width="1" height="11" fill="#b42a44"/>
<rect x="1151" y="903" width="3" height="3" fill="#f4f4f4"/>
<rect x="1156" y="899" width="3" height="7" fill="#f4f4f4"/>
<rect x="1157" y="900" width="1" height="5" fill="#b42a44"/>
<rect x="1160" y="904" width="3" height="2" fill="#f4f4f4"/>
<rect x="1165" y="899" width="3" height="7" fill="#f4f4f4"/>
<rect x="1166" y="900" width="1" height="5" fill="#b42a44"/>
<rect x="1170" y="903" width="3" height="3" fill="#f4f4f4"/>
<rect x="1174" y="902" width="3" height="4" fill="#f4f4f4"/>
<rect x="1175" y="903" width="1" height="2" fill="#5ccd5c"/>
<rect x="1179" y="905" width="3" height="1" fill="#b42a44"/>
<rect x="1184" y="892" width="3" height="14" fill="#f4f4f4"/>
<rect x="1185" y="893" width="1" height="12" fill="#b42a44"/>
<rect x="1188" y="894" width="3" height="12" fill="#f4f4f4"/>
<rect x="1189" y="895" width="1" height="10" fill="#b42a44"/>
<rect x="1193" y="902" width="3" height="4" fill="#f4f4f4"/>
<rect x="1194" y="903" width="1" height="2" fill="#000"/>
<rect x="1198" y="887" width="3" height="19" fill="#f4f4f4"/>
<rect x="1199" y="888" width="1" height="17" fill="#b42a44"/>
<rect x="1202" y="887" width="3" height="19" fill="#f4f4f4"/>
<rect x="1203" y="888" width="1" height="17" fill="#b42a44"/>
<rect x="1207" y="892" width="3" height="14" fill="#f4f4f4"/>
<rect x="1208" y="893" width="1" height="12" fill="#b42a44"/>
<rect x="1212" y="902" width="3" height="4" fill="#f4f4f4"/>
<rect x="1213" y="903" width="1" height="2" fill="#5ccd5c"/>
<rect x="1217" y="902" width="3" height="4" fill="#f4f4f4"/>
<rect x="1218" y="903" width="1" height="2" fill="#000"/>
<rect x="1221" y="904" width="3" height="2" fill="#f4f4f4"/>
<rect x="1226" y="901" width="3" height="5" fill="#f4f4f4"/>
<rect x="1227" y="902" width="1" height="3" fill="#000"/>
<rect x="1231" y="902" width="3" height="4" fill="#f4f4f4"/>
<rect x="1232" y="903" width="1" height="2" fill="#000"/>
<rect x="1235" y="903" width="3" height="3" fill="#f4f4f4"/>
<rect x="1240" y="893" width="3" height="13" fill="#f4f4f4"/>
<rect x="1241" y="894" width="1" height="11" fill="#5ccd5c"/>
<rect x="1245" y="886" width="3" height="20" fill="#f4f4f4"/>
<rect x="1246" y="887" width="1" height="18" fill="#5ccd5c"/>
<rect x="1249" y="902" width="3" height="4" fill="#f4f4f4"/>
<rect x="1250" y="903" width="1" height="2" fill="#000"/>
<rect x="1254" y="902" width="3" height="4" fill="#f4f4f4"/>
<rect x="1255" y="903" width="1" height="2" fill="#5ccd5c"/>
<rect x="1259" y="886" width="3" height="20" fill="#f4f4f4"/>
<rect x="1260" y="887" width="1" height="18" fill="#b42a44"/>
<rect x="1263" y="897" width="3" height="9" fill="#f4f4f4"/>
<rect x="1264" y="898" width="1" height="7" fill="#b42a44"/>
<rect x="1268" y="903" width="3" height="3" fill="#f4f4f4"/>
<rect x="1273" y="903" width="3" height="3" fill="#f4f4f4"/>
<rect x="1277" y="904" width="3" height="2" fill="#f4f4f4"/>
<rect x="1282" y="904" width="3" height="2" fill="#f4f4f4"/>
<rect x="1287" y="889" width="3" height="17" fill="#f4f4f4"/>
<rect x="1288" y="890" width="1" height="15" fill="#b42a44"/>
<rect x="1291" y="904" width="3" height="2" fill="#f4f4f4"/>
<rect x="1296" y="902" width="3" height="4" fill="#f4f4f4"/>
<rect x="1297" y="903" width="1" height="2" fill="#5ccd5c"/>
<rect x="1301" y="904" width="3" height="2" fill="#f4f4f4"/>
<rect x="1305" y="901" width="3" height="5" fill="#f4f4f4"/>
<rect x="1306" y="902" width="1" height="3" fill="#5ccd5c"/>
<rect x="1310" y="901" width="3" height="5" fill="#f4f4f4"/>
<rect x="1311" y="902" width="1" height="3" fill="#5ccd5c"/>
<rect x="1315" y="905" width="3" height="1" fill="#b42a44"/>
<rect x="1319" y="904" width="3" height="2" fill="#f4f4f4"/>
<rect x="1324" y="905" width="3" height="1" fill="#b42a44"/>
<rect x="1329" y="905" width="3" height="1" fill="#5ccd5c"/>
<rect x="1333" y="903" width="3" height="3" fill="#f4f4f4"/>
<rect x="1338" y="905" width="3" height="1" fill="#b42a44"/>
<rect x="1343" y="904" width="3" height="2" fill="#f4f4f4"/>
<rect x="1347" y="905" width="3" height="1" fill="#5ccd5c"/>
<rect x="1352" y="902" width="3" height="4" fill="#f4f4f4"/>
<rect x="1353" y="903" width="1" height="2" fill="#5ccd5c"/>
<rect x="1357" y="895" width="3" height="11" fill="#f4f4f4"/>
<rect x="1358" y="896" width="1" height="9" fill="#b42a44"/>
<rect x="1361" y="905" width="3" height="1" fill="#5ccd5c"/>
<rect x="1366" y="904" width="3" height="2" fill="#f4f4f4"/>
<rect x="1371" y="903" width="3" height="3" fill="#f4f4f4"/>
<rect x="1375" y="905" width="3" height="1" fill="#b42a44"/>
<rect x="1380" y="903" width="3" height="3" fill="#f4f4f4"/>
<rect x="1385" y="905" width="3" height="1" fill="#b42a44"/>
<rect x="1389" y="905" width="3" height="1" fill="#b42a44"/>
<rect x="1394" y="905" width="3" height="1" fill="#5ccd5c"/>
<rect x="1399" y="901" width="3" height="5" fill="#f4f4f4"/>
<rect x="1400" y="902" width="1" height="3" fill="#b42a44"/>
<rect x="1403" y="903" width="3" height="3" fill="#f4f4f4"/>
<rect x="1408" y="900" width="3" height="6" fill="#f4f4f4"/>
<rect x="1409" y="901" width="1" height="4" fill="#b42a44"/>
<rect x="1413" y="886" width="3" height="20" fill="#f4f4f4"/>
<rect x="1414" y="887" width="1" height="18" fill="#b42a44"/>
<rect x="1417" y="905" width="3" height="1" fill="#b42a44"/>
<rect x="1422" y="903" width="3" height="3" fill="#f4f4f4"/>
<rect x="1427" y="900" width="3" height="6" fill="#f4f4f4"/>
<rect x="1428" y="901" width="1" height="4" fill="#b42a44"/>
<rect x="1431" y="905" width="3" height="1" fill="#5ccd5c"/>
<rect x="1436" y="903" width="3" height="3" fill="#f4f4f4"/>
<rect x="1441" y="899" width="3" height="7" fill="#f4f4f4"/>
<rect x="1442" y="900" width="1" height="5" fill="#b42a44"/>
<rect x="1445" y="903" width="3" height="3" fill="#f4f4f4"/>
<rect x="1450" y="904" width="3" height="2" fill="#f4f4f4"/>
<rect x="1455" y="900" width="3" height="6" fill="#f4f4f4"/>
<rect x="1456" y="901" width="1" height="4" fill="#b42a44"/>
<rect x="1459" y="905" width="3" height="1" fill="#b42a44"/>
<rect x="1464" y="905" width="3" height="1" fill="#5ccd5c"/>
<rect x="1469" y="904" width="3" height="2" fill="#f4f4f4"/>
<rect x="1473" y="898" width="3" height="8" fill="#f4f4f4"/>
<rect x="1474" y="899" width="1" height="6" fill="#b42a44"/>
<rect x="1478" y="894" width="3" height="12" fill="#f4f4f4"/>
<rect x="1479" y="895" width="1" height="10" fill="#b42a44"/>
<rect x="1483" y="898" width="3" height="8" fill="#f4f4f4"/>
<rect x="1484" y="899" width="1" height="6" fill="#b42a44"/>
<rect x="1487" y="886" width="3" height="20" fill="#f4f4f4"/>
<rect x="1488" y="887" width="1" height="18" fill="#b42a44"/>
<rect x="1492" y="900" width="3" height="6" fill="#f4f4f4"/>
<rect x="1493" y="901" width="1" height="4" fill="#5ccd5c"/>
<rect x="1497" y="905" width="3" height="1" fill="#5ccd5c"/>
<rect x="1501" y="904" width="3" height="2" fill="#f4f4f4"/>
<rect x="1506" y="901" width="3" height="5" fill="#f4f4f4"/>
<rect x="1507" y="902" width="1" height="3" fill="#b42a44"/>
<rect x="1511" y="897" width="3" height="9" fill="#f4f4f4"/>
<rect x="1512" y="898" width="1" height="7" fill="#b42a44"/>
<rect x="1515" y="897" width="3" height="9" fill="#f4f4f4"/>
<rect x="1516" y="898" width="1" height="7" fill="#b42a44"/>
<rect x="1520" y="896" width="3" height="10" fill="#f4f4f4"/>
<rect x="1521" y="897" width="1" height="8" fill="#b42a44"/>
<rect x="1525" y="892" width="3" height="14" fill="#f4f4f4"/>
<rect x="1526" y="893" width="1" height="12" fill="#5ccd5c"/>
<rect x="1529" y="904" width="3" height="2" fill="#f4f4f4"/>
<rect x="1534" y="902" width="3" height="4" fill="#f4f4f4"/>
<rect x="1535" y="903" width="1" height="2" fill="#000"/>
<rect x="1539" y="902" width="3" height="4" fill="#f4f4f4"/>
<rect x="1540" y="903" width="1" height="2" fill="#b42a44"/>
<rect x="1543" y="905" width="3" height="1" fill="#5ccd5c"/>
<rect x="1548" y="900" width="3" height="6" fill="#f4f4f4"/>
<rect x="1549" y="901" width="1" height="4" fill="#5ccd5c"/>
<rect x="1553" y="904" width="3" height="2" fill="#f4f4f4"/>
<rect x="1557" y="888" width="3" height="18" fill="#f4f4f4"/>
<rect x="1558" y="889" width="1" height="16" fill="#5ccd5c"/>
<rect x="1562" y="891" width="3" height="15" fill="#f4f4f4"/>
<rect x="1563" y="892" width="1" height="13" fill="#5ccd5c"/>
<rect x="1567" y="847" width="3" height="59" fill="#f4f4f4"/>
<rect x="1568" y="848" width="1" height="57" fill="#b42a44"/>
<rect x="1571" y="882" width="3" height="24" fill="#f4f4f4"/>
<rect x="1572" y="883" width="1" height="22" fill="#5ccd5c"/>
<rect x="1576" y="813" width="3" height="93" fill="#f4f4f4"/>
<rect x="1577" y="814" width="1" height="91" fill="#5ccd5c"/>
<rect x="1581" y="837" width="3" height="69" fill="#f4f4f4"/>
<rect x="1582" y="838" width="1" height="67" fill="#5ccd5c"/>
<rect x="1585" y="797" width="3" height="109" fill="#f4f4f4"/>
<rect x="1586" y="798" width="1" height="107" fill="#b42a44"/>
<rect x="1590" y="846" width="3" height="60" fill="#f4f4f4"/>
<rect x="1591" y="847" width="1" height="58" fill="#b42a44"/>
<rect x="1595" y="881" width="3" height="25" fill="#f4f4f4"/>
<rect x="1596" y="882" width="1" height="23" fill="#5ccd5c"/>
<rect x="1600" y="888" width="3" height="18" fill="#f4f4f4"/>
<rect x="1601" y="889" width="1" height="16" fill="#b42a44"/>
</g>
<g shape-rendering="crispEdges">
<polyline points="157.5,280.1 162.5,281.2 167.5,280.7 171.5,280.1 176.5,280.9 181.5,281.7 185.5,281.8 190.5,281.7 195.5,281.8 199.5,282.2 204.5,282.7 209.5,282.8 213.5,282.5 218.5,283.0 223.5,283.0 227.5,282.5 232.5,282.3 237.5,282.7 241.5,280.3 246.5,279.0 251.5,277.8 255.5,277.0 260.5,277.0 265.5,276.4 269.5,275.2 274.5,273.7 279.5,273.0 283.5,272.5 288.5,271.0 293.5,269.5 297.5,267.9 302.5,267.2 307.5,266.6 311.5,265.1 316.5,264.1 321.5,263.1 325.5,262.3 330.5,261.5 335.5,263.3 339.5,264.9 344.5,266.9 349.5,268.8 353.5,270.6 358.5,272.9 363.5,275.5 367.5,277.5 372.5,278.5 377.5,279.4 381.5,280.7 386.5,282.1 391.5,283.6 395.5,284.8 400.5,286.0 405.5,287.3 409.5,288.5 414.5,289.6 419.5,290.2 423.5,290.6 428.5,290.7 433.5,290.1 437.5,289.6 442.5,289.7 447.5,289.4 452.5,289.7 456.5,289.5 461.5,290.0 466.5,291.3 470.5,292.4 475.5,293.5 480.5,294.3 484.5,295.2 489.5,295.8 494.5,296.2 498.5,296.5 503.5,296.8 508.5,297.2 512.5,297.6 517.5,298.1 522.5,298.6 526.5,299.2 531.5,300.2 536.5,300.6 540.5,300.6 545.5,300.5 550.5,300.3 554.5,299.6 559.5,298.5 564.5,297.3 568.5,296.8 573.5,295.9 578.5,295.0 582.5,293.0 587.5,291.2 592.5,289.5 596.5,287.8 601.5,285.8 606.5,284.2 610.5,282.4 615.5,280.6 620.5,278.7 624.5,276.7 629.5,271.6 634.5,266.6 638.5,261.3 643.5,256.7 648.5,253.2 652.5,244.8 657.5,236.9 662.5,229.7 666.5,222.7 671.5,215.7 676.5,209.1 680.5,202.6 685.5,195.9 690.5,189.1 694.5,182.3 699.5,175.2 704.5,167.4 708.5,160.5 713.5,153.3 718.5,146.6 722.5,143.2 727.5,139.7 732.5,135.8 736.5,131.6 741.5,126.8 746.5,126.8 750.5,126.7 755.5,125.6 760.5,124.6 764.5,123.6 769.5,122.9 774.5,122.5 778.5,123.0 783.5,125.9 788.5,128.3 792.5,131.7 797.5,135.4 802.5,139.0 806.5,143.4 811.5,145.9 816.5,148.3 820.5,151.1 825.5,154.4 830.5,156.5 835.5,158.5 839.5,161.1 844.5,163.8 849.5,165.9 853.5,168.4 858.5,171.0 863.5,174.5 867.5,177.4 872.5,179.1 877.5,178.4 881.5,178.6 886.5,178.0 891.5,177.7 895.5,177.5 900.5,177.3 905.5,178.2 909.5,179.3 914.5,180.4 919.5,181.0 923.5,184.0 928.5,185.6 933.5,187.3 937.5,188.7 942.5,190.6 947.5,192.0 951.5,193.8 956.5,194.3 961.5,194.9 965.5,195.3 970.5,195.5 975.5,195.4 979.5,194.8 984.5,194.1 989.5,192.2 993.5,189.2 998.5,186.7 1003.5,182.9 1007.5,179.8 1012.5,176.9 1017.5,173.2 1021.5,171.1 1026.5,168.3 1031.5,165.6 1035.5,163.0 1040.5,161.0 1045.5,158.2 1049.5,156.5 1054.5,155.0 1059.5,153.5 1063.5,153.2 1068.5,153.5 1073.5,154.3 1077.5,154.7 1082.5,155.9 1087.5,158.3 1091.5,161.7 1096.5,166.4 1101.5,171.8 1105.5,176.6 1110.5,180.8 1115.5,185.6 1119.5,189.9 1124.5,194.2 1129.5,198.0 1133.5,201.6 1138.5,207.4 1143.5,212.7 1147.5,219.1 1152.5,225.8 1157.5,232.4 1161.5,238.5 1166.5,244.6 1171.5,251.4 1175.5,257.5 1180.5,263.3 1185.5,267.4 1189.5,271.9 1194.5,275.0 1199.5,279.3 1203.5,284.9 1208.5,289.9 1213.5,294.9 1218.5,300.0 1222.5,305.3 1227.5,310.5 1232.5,313.7 1236.5,316.2 1241.5,316.6 1246.5,316.5 1250.5,316.0 1255.5,315.2 1260.5,314.4 1264.5,313.4 1269.5,312.8 1274.5,312.0 1278.5,311.4 1283.5,310.5 1288.5,309.7 1292.5,309.1 1297.5,307.8 1302.5,306.8 1306.5,305.8 1311.5,304.6 1316.5,303.4 1320.5,302.3 1325.5,301.2 1330.5,300.2 1334.5,301.2 1339.5,302.9 1344.5,304.7 1348.5,306.4 1353.5,308.7 1358.5,311.5 1362.5,314.6 1367.5,317.1 1372.5,320.2 1376.5,322.8 1381.5,325.3 1386.5,326.8 1390.5,328.5 1395.5,330.0 1400.5,332.8 1404.5,335.7 1409.5,339.8 1414.5,344.3 1418.5,349.3 1423.5,354.4 1428.5,358.8 1432.5,362.9 1437.5,367.1 1442.5,371.6 1446.5,375.6 1451.5,379.0 1456.5,382.7 1460.5,386.6 1465.5,389.8 1470.5,393.6 1474.5,398.3 1479.5,403.7 1484.5,409.6 1488.5,415.9 1493.5,421.1 1498.5,426.1 1502.5,430.2 1507.5,433.9 1512.5,437.4 1516.5,440.6 1521.5,443.9 1526.5,447.3 1530.5,450.3 1535.5,453.3 1540.5,456.2 1544.5,459.4 1549.5,461.9 1554.5,464.7 1558.5,467.5 1563.5,469.8 1568.5,471.0 1572.5,471.6 1577.5,470.4 1582.5,466.2 1586.5,463.0 1591.5,460.3 1596.5,457.3 1601.5,454.7" fill="none" stroke="#40c03a" stroke-width="1"/>
<polyline points="998.5,234.9 1003.5,234.3 1007.5,233.6 1012.5,232.9 1017.5,232.3 1021.5,231.8 1026.5,231.1 1031.5,230.5 1035.5,229.9 1040.5,229.3 1045.5,228.7 1049.5,228.1 1054.5,227.5 1059.5,226.8 1063.5,226.2 1068.5,225.6 1073.5,225.1 1077.5,224.5 1082.5,223.9 1087.5,223.3 1091.5,223.0 1096.5,222.8 1101.5,222.7 1105.5,222.6 1110.5,222.3 1115.5,222.1 1119.5,222.0 1124.5,221.7 1129.5,221.5 1133.5,221.2 1138.5,221.1 1143.5,221.1 1147.5,221.2 1152.5,221.1 1157.5,221.2 1161.5,221.2 1166.5,221.3 1171.5,221.3 1175.5,221.6 1180.5,221.8 1185.5,222.0 1189.5,222.3 1194.5,222.5 1199.5,222.8 1203.5,223.3 1208.5,223.8 1213.5,224.1 1218.5,224.5 1222.5,224.9 1227.5,225.3 1232.5,225.7 1236.5,226.0 1241.5,226.2 1246.5,226.2 1250.5,226.4 1255.5,226.5 1260.5,226.5 1264.5,226.5 1269.5,226.5 1274.5,226.5 1278.5,226.4 1283.5,226.5 1288.5,226.4 1292.5,226.5 1297.5,226.5 1302.5,226.7 1306.5,226.9 1311.5,227.0 1316.5,227.2 1320.5,227.3 1325.5,227.5 1330.5,227.5 1334.5,227.7 1339.5,227.8 1344.5,228.0 1348.5,228.1 1353.5,228.4 1358.5,228.6 1362.5,228.9 1367.5,229.2 1372.5,229.5 1376.5,229.8 1381.5,230.0 1386.5,230.2 1390.5,230.4 1395.5,230.7 1400.5,231.0 1404.5,231.3 1409.5,231.8 1414.5,232.3 1418.5,232.9 1423.5,233.4 1428.5,233.9 1432.5,234.4 1437.5,235.0 1442.5,235.6 1446.5,236.2 1451.5,236.7 1456.5,237.3 1460.5,237.9 1465.5,238.5 1470.5,239.1 1474.5,239.8 1479.5,240.5 1484.5,241.4 1488.5,242.3 1493.5,243.3 1498.5,244.2 1502.5,245.2 1507.5,246.1 1512.5,247.1 1516.5,248.1 1521.5,249.2 1526.5,250.2 1530.5,251.3 1535.5,252.3 1540.5,253.4 1544.5,254.4 1549.5,255.5 1554.5,256.5 1558.5,257.5 1563.5,258.9 1568.5,260.2 1572.5,261.5 1577.5,262.7 1582.5,263.6 1586.5,265.1 1591.5,266.6 1596.5,267.9 1601.5,269.3" fill="none" stroke="#b02828" stroke-width="1"/>
<polyline points="129.5,621.1 134.5,626.1 139.5,625.8 143.5,613.7 148.5,619.6 153.5,618.2 157.5,596.3 162.5,585.5 167.5,585.5 171.5,580.6 176.5,590.4 181.5,598.1 185.5,591.2 190.5,597.4 195.5,600.4 199.5,601.4 204.5,605.0 209.5,592.8 213.5,592.1 218.5,618.9 223.5,604.2 227.5,602.8 232.5,609.9 237.5,614.8 241.5,565.8 246.5,586.0 251.5,578.6 255.5,578.6 260.5,594.3 265.5,582.2 269.5,577.9 274.5,578.6 279.5,590.6 283.5,596.6 288.5,583.2 293.5,581.8 297.5,583.2 302.5,598.2 307.5,598.8 311.5,598.1 316.5,598.9 321.5,600.8 325.5,610.7 330.5,616.6 335.5,619.8 339.5,631.7 344.5,626.3 349.5,620.2 353.5,629.9 358.5,618.9 363.5,617.0 367.5,599.0 372.5,587.9 377.5,592.9 381.5,585.0 386.5,584.6 391.5,587.7 395.5,602.1 400.5,602.1 405.5,604.4 409.5,601.6 414.5,601.1 419.5,594.9 423.5,599.4 428.5,593.5 433.5,597.7 437.5,597.7 442.5,617.3 447.5,625.9 452.5,632.8 456.5,606.1 461.5,605.4 466.5,618.5 470.5,618.6 475.5,599.5 480.5,589.8 484.5,596.4 489.5,603.9 494.5,592.2 498.5,593.9 503.5,588.5 508.5,594.2 512.5,588.8 517.5,597.4 522.5,596.1 526.5,599.1 531.5,619.0 536.5,607.0 540.5,598.1 545.5,609.3 550.5,583.5 554.5,573.6 559.5,573.6 564.5,571.8 568.5,583.8 573.5,570.2 578.5,570.2 582.5,556.7 587.5,555.9 592.5,562.1 596.5,559.1 601.5,556.7 606.5,571.2 610.5,571.2 615.5,568.1 620.5,572.8 624.5,589.1 629.5,546.9 634.5,546.4 638.5,546.4 643.5,547.1 648.5,567.5 652.5,543.7 657.5,550.3 662.5,564.3 666.5,562.8 671.5,562.3 676.5,560.6 680.5,560.4 685.5,559.5 690.5,557.7 694.5,556.9 699.5,556.2 704.5,550.6 708.5,574.5 713.5,570.8 718.5,588.4 722.5,590.9 727.5,585.9 732.5,581.3 736.5,575.7 741.5,575.3 746.5,576.2 750.5,586.7 755.5,584.9 760.5,580.5 764.5,579.6 769.5,578.4 774.5,590.3 778.5,613.3 783.5,637.2 788.5,622.6 792.5,629.6 797.5,621.5 802.5,627.3 806.5,631.2 811.5,610.3 816.5,608.4 820.5,611.3 825.5,613.2 830.5,585.9 835.5,585.0 839.5,594.9 844.5,602.1 849.5,590.8 853.5,594.4 858.5,596.8 863.5,608.9 867.5,602.4 872.5,595.0 877.5,589.6 881.5,596.3 886.5,599.3 891.5,596.5 895.5,611.3 900.5,619.0 905.5,620.0 909.5,622.5 914.5,624.1 919.5,614.6 923.5,626.5 928.5,592.0 933.5,602.5 937.5,604.1 942.5,602.2 947.5,595.5 951.5,605.0 956.5,594.3 961.5,588.6 965.5,580.2 970.5,572.0 975.5,573.3 979.5,568.1 984.5,565.5 989.5,559.4 993.5,554.7 998.5,570.9 1003.5,559.9 1007.5,576.8 1012.5,576.8 1017.5,578.9 1021.5,579.7 1026.5,582.2 1031.5,586.8 1035.5,586.2 1040.5,596.5 1045.5,587.9 1049.5,606.7 1054.5,601.1 1059.5,588.8 1063.5,605.7 1068.5,616.1 1073.5,617.8 1077.5,601.0 1082.5,607.7 1087.5,618.4 1091.5,632.5 1096.5,634.5 1101.5,641.3 1105.5,628.9 1110.5,617.1 1115.5,622.8 1119.5,616.3 1124.5,616.3 1129.5,606.8 1133.5,607.5 1138.5,627.5 1143.5,629.1 1147.5,635.2 1152.5,630.2 1157.5,634.3 1161.5,634.9 1166.5,635.4 1171.5,636.1 1175.5,626.7 1180.5,629.7 1185.5,628.4 1189.5,634.3 1194.5,634.3 1199.5,640.3 1203.5,644.5 1208.5,643.7 1213.5,633.8 1218.5,635.0 1222.5,625.0 1227.5,620.9 1232.5,614.3 1236.5,599.8 1241.5,572.5 1246.5,563.5 1250.5,571.8 1255.5,569.7 1260.5,569.0 1264.5,569.0 1269.5,568.7 1274.5,578.0 1278.5,581.9 1283.5,594.9 1288.5,595.8 1292.5,619.6 1297.5,618.5 1302.5,625.3 1306.5,612.0 1311.5,607.5 1316.5,600.1 1320.5,602.1 1325.5,591.0 1330.5,586.7 1334.5,608.4 1339.5,612.0 1344.5,616.9 1348.5,612.2 1353.5,623.1 1358.5,631.1 1362.5,633.8 1367.5,621.1 1372.5,630.2 1376.5,624.1 1381.5,619.2 1386.5,615.7 1390.5,619.6 1395.5,621.9 1400.5,637.0 1404.5,637.4 1409.5,644.6 1414.5,646.6 1418.5,647.6 1423.5,647.8 1428.5,645.5 1432.5,636.4 1437.5,639.8 1442.5,641.2 1446.5,638.8 1451.5,638.8 1456.5,644.1 1460.5,644.1 1465.5,628.8 1470.5,637.0 1474.5,644.2 1479.5,647.6 1484.5,650.4 1488.5,651.7 1493.5,647.1 1498.5,644.9 1502.5,643.7 1507.5,644.1 1512.5,644.3 1516.5,628.2 1521.5,628.7 1526.5,628.7 1530.5,621.8 1535.5,623.9 1540.5,617.9 1544.5,627.0 1549.5,609.9 1554.5,621.2 1558.5,606.7 1563.5,608.0 1568.5,593.2 1572.5,590.2 1577.5,563.5 1582.5,544.3 1586.5,563.9 1591.5,573.9 1596.5,570.5 1601.5,579.0" fill="none" stroke="#ffffff" stroke-width="1"/>
<polyline points="97.5,755.7 101.5,756.6 106.5,750.1 111.5,737.2 115.5,718.8 120.5,721.1 125.5,736.7 129.5,753.1 134.5,763.2 139.5,763.3 143.5,756.1 148.5,745.1 153.5,733.5 157.5,720.9 162.5,697.4 167.5,675.1 171.5,672.0 176.5,681.0 181.5,708.5 185.5,731.2 190.5,751.3 195.5,756.1 199.5,767.0 204.5,768.5 209.5,752.1 213.5,726.2 218.5,724.4 223.5,723.9 227.5,729.8 232.5,715.3 237.5,719.1 241.5,705.5 246.5,706.8 251.5,697.9 255.5,711.2 260.5,719.8 265.5,728.6 269.5,725.0 274.5,712.7 279.5,716.3 283.5,735.5 288.5,740.2 293.5,732.2 297.5,714.0 302.5,723.5 307.5,735.7 311.5,746.8 316.5,735.0 321.5,719.0 325.5,716.0 330.5,721.0 335.5,732.1 339.5,748.5 344.5,760.9 349.5,763.8 353.5,763.7 358.5,749.9 363.5,738.3 367.5,703.7 372.5,692.9 377.5,689.6 381.5,697.1 386.5,698.8 391.5,700.3 395.5,716.2 400.5,728.5 405.5,739.2 409.5,735.4 414.5,732.3 419.5,718.1 423.5,713.0 428.5,704.8 433.5,710.4 437.5,709.0 442.5,731.8 447.5,751.9 452.5,773.0 456.5,758.7 461.5,732.9 466.5,730.1 470.5,738.2 475.5,735.8 480.5,703.5 484.5,684.1 489.5,698.4 494.5,714.3 498.5,725.3 503.5,715.7 508.5,715.0 512.5,699.7 517.5,707.2 522.5,708.7 526.5,725.2 531.5,741.4 536.5,749.1 540.5,739.9 545.5,730.5 550.5,706.9 554.5,696.5 559.5,671.7 564.5,673.0 568.5,686.4 573.5,686.4 578.5,684.3 582.5,670.9 587.5,670.9 592.5,681.2 596.5,687.7 601.5,692.6 606.5,695.9 610.5,705.4 615.5,710.5 620.5,708.8 624.5,712.3 629.5,702.3 634.5,701.0 638.5,693.0 643.5,704.7 648.5,712.8 652.5,701.3 657.5,696.8 662.5,690.6 666.5,701.4 671.5,705.7 676.5,717.9 680.5,728.2 685.5,735.4 690.5,723.0 694.5,719.3 699.5,721.4 704.5,729.6 708.5,744.8 713.5,752.8 718.5,762.6 722.5,761.5 727.5,757.9 732.5,743.5 736.5,713.9 741.5,708.4 746.5,717.7 750.5,749.5 755.5,762.8 760.5,767.2 764.5,754.2 769.5,740.5 774.5,740.4 778.5,749.3 783.5,758.4 788.5,752.6 792.5,753.3 797.5,751.9 802.5,759.5 806.5,757.6 811.5,746.2 816.5,729.0 820.5,709.9 825.5,706.5 830.5,696.8 835.5,705.1 839.5,719.2 844.5,745.3 849.5,753.9 853.5,755.9 858.5,755.0 863.5,763.5 867.5,760.9 872.5,744.9 877.5,727.3 881.5,725.0 886.5,739.8 891.5,748.3 895.5,760.3 900.5,766.8 905.5,773.1 909.5,769.6 914.5,764.8 919.5,750.0 923.5,753.0 928.5,727.9 933.5,728.9 937.5,714.7 942.5,728.9 947.5,722.9 951.5,737.0 956.5,725.3 961.5,713.2 965.5,684.7 970.5,684.7 975.5,692.2 979.5,693.8 984.5,697.5 989.5,700.5 993.5,695.0 998.5,699.2 1003.5,701.3 1007.5,726.2 1012.5,738.3 1017.5,753.6 1021.5,760.4 1026.5,768.2 1031.5,766.4 1035.5,753.1 1040.5,747.5 1045.5,737.8 1049.5,752.0 1054.5,749.7 1059.5,744.6 1063.5,736.8 1068.5,738.1 1073.5,750.3 1077.5,737.3 1082.5,724.5 1087.5,728.4 1091.5,750.1 1096.5,767.0 1101.5,775.2 1105.5,768.0 1110.5,755.8 1115.5,744.3 1119.5,735.2 1124.5,725.5 1129.5,701.0 1133.5,695.5 1138.5,719.0 1143.5,748.6 1147.5,768.4 1152.5,765.9 1157.5,771.7 1161.5,772.6 1166.5,774.0 1171.5,773.2 1175.5,757.5 1180.5,750.5 1185.5,740.7 1189.5,757.1 1194.5,764.4 1199.5,767.2 1203.5,759.5 1208.5,753.2 1213.5,748.1 1218.5,742.5 1222.5,717.8 1227.5,711.5 1232.5,702.9 1236.5,711.8 1241.5,695.7 1246.5,682.9 1250.5,676.4 1255.5,679.5 1260.5,681.8 1264.5,683.4 1269.5,687.2 1274.5,702.9 1278.5,727.9 1283.5,755.3 1288.5,765.6 1292.5,764.5 1297.5,759.4 1302.5,760.2 1306.5,749.4 1311.5,733.2 1316.5,711.9 1320.5,702.0 1325.5,691.3 1330.5,684.6 1334.5,710.1 1339.5,742.0 1344.5,776.0 1348.5,772.8 1353.5,770.9 1358.5,767.2 1362.5,770.2 1367.5,762.4 1372.5,766.6 1376.5,763.0 1381.5,759.7 1386.5,740.4 1390.5,735.4 1395.5,741.8 1400.5,760.5 1404.5,767.3 1409.5,775.3 1414.5,766.0 1418.5,760.8 1423.5,752.4 1428.5,752.0 1432.5,729.4 1437.5,728.1 1442.5,723.5 1446.5,737.3 1451.5,728.2 1456.5,742.7 1460.5,757.9 1465.5,759.7 1470.5,758.7 1474.5,759.4 1479.5,776.2 1484.5,777.4 1488.5,775.8 1493.5,772.6 1498.5,766.7 1502.5,760.0 1507.5,749.8 1512.5,748.0 1516.5,728.7 1521.5,726.8 1526.5,719.1 1530.5,727.4 1535.5,731.1 1540.5,730.6 1544.5,749.1 1549.5,742.0 1554.5,756.4 1558.5,741.8 1563.5,748.9 1568.5,737.7 1572.5,739.0 1577.5,715.0 1582.5,692.2 1586.5,684.6 1591.5,702.1 1596.5,717.8 1601.5,728.0" fill="none" stroke="#56dcca" stroke-width="1"/>
<polyline points="106.5,754.1 111.5,748.0 115.5,735.3 120.5,725.7 125.5,725.5 129.5,737.0 134.5,751.0 139.5,759.8 143.5,760.8 148.5,754.8 153.5,744.9 157.5,733.2 162.5,717.2 167.5,697.8 171.5,681.5 176.5,676.0 181.5,687.2 185.5,706.9 190.5,730.3 195.5,746.2 199.5,758.2 204.5,763.9 209.5,762.5 213.5,748.9 218.5,734.2 223.5,724.8 227.5,726.0 232.5,723.0 237.5,721.4 241.5,713.3 246.5,710.5 251.5,703.4 255.5,705.3 260.5,709.7 265.5,719.9 269.5,724.5 274.5,722.1 279.5,718.0 283.5,721.5 288.5,730.7 293.5,736.0 297.5,728.8 302.5,723.2 307.5,724.4 311.5,735.3 316.5,739.2 321.5,733.6 325.5,723.3 330.5,718.7 335.5,723.0 339.5,733.9 344.5,747.2 349.5,757.8 353.5,762.8 358.5,759.2 363.5,750.7 367.5,730.7 372.5,711.6 377.5,695.4 381.5,693.2 386.5,695.2 391.5,698.7 395.5,705.1 400.5,715.0 405.5,728.0 409.5,734.4 414.5,735.6 419.5,728.6 423.5,721.1 428.5,711.9 433.5,709.4 437.5,708.1 442.5,717.1 447.5,730.9 452.5,752.2 456.5,761.2 461.5,754.8 466.5,740.6 470.5,733.7 475.5,734.7 480.5,725.8 484.5,707.8 489.5,695.4 494.5,699.0 498.5,712.7 503.5,718.5 508.5,718.7 512.5,710.2 517.5,707.3 522.5,705.2 526.5,713.7 531.5,725.1 536.5,738.6 540.5,743.5 545.5,739.9 550.5,725.8 554.5,711.3 559.5,691.7 564.5,680.4 568.5,677.0 573.5,681.9 578.5,685.7 582.5,680.5 587.5,675.4 592.5,674.3 596.5,679.9 601.5,687.2 606.5,692.1 610.5,698.0 615.5,703.9 620.5,708.3 624.5,710.5 629.5,707.8 634.5,705.2 638.5,698.8 643.5,699.5 648.5,703.5 652.5,706.3 657.5,703.7 662.5,696.2 666.5,696.3 671.5,699.2 676.5,708.3 680.5,717.3 685.5,727.2 690.5,728.9 694.5,725.9 699.5,721.2 704.5,723.4 708.5,731.9 713.5,742.4 718.5,753.4 722.5,759.0 727.5,760.7 732.5,754.3 736.5,738.5 741.5,721.9 746.5,713.3 750.5,725.2 755.5,743.3 760.5,759.8 764.5,761.4 769.5,754.0 774.5,745.0 778.5,743.4 783.5,749.4 788.5,753.4 792.5,754.7 797.5,752.6 802.5,754.9 806.5,756.3 811.5,754.5 816.5,744.3 820.5,728.4 825.5,715.1 830.5,704.4 835.5,702.8 839.5,707.1 844.5,723.2 849.5,739.5 853.5,751.7 858.5,754.9 863.5,758.1 867.5,759.8 872.5,756.4 877.5,744.3 881.5,732.4 886.5,730.7 891.5,737.7 895.5,749.5 900.5,758.5 905.5,766.7 909.5,769.8 914.5,769.2 919.5,761.5 923.5,756.0 928.5,743.7 933.5,736.6 937.5,723.8 942.5,724.1 947.5,722.2 951.5,729.6 956.5,728.4 961.5,725.1 965.5,707.7 970.5,694.2 975.5,687.2 979.5,690.2 984.5,694.5 989.5,697.3 993.5,697.7 998.5,698.2 1003.5,698.5 1007.5,708.9 1012.5,722.0 1017.5,739.4 1021.5,750.8 1026.5,760.7 1031.5,765.0 1035.5,762.6 1040.5,755.7 1045.5,746.2 1049.5,745.8 1054.5,746.5 1059.5,748.8 1063.5,743.7 1068.5,739.9 1073.5,741.7 1077.5,741.9 1082.5,737.3 1087.5,730.0 1091.5,734.3 1096.5,748.5 1101.5,764.1 1105.5,770.0 1110.5,766.3 1115.5,756.0 1119.5,745.1 1124.5,735.0 1129.5,720.6 1133.5,707.4 1138.5,705.2 1143.5,721.0 1147.5,745.3 1152.5,760.9 1157.5,768.6 1161.5,770.0 1166.5,772.8 1171.5,773.3 1175.5,768.2 1180.5,760.4 1185.5,749.6 1189.5,749.4 1194.5,754.1 1199.5,762.9 1203.5,763.7 1208.5,760.0 1213.5,753.6 1218.5,747.9 1222.5,736.1 1227.5,723.9 1232.5,710.8 1236.5,708.8 1241.5,703.5 1246.5,696.8 1250.5,685.0 1255.5,679.6 1260.5,679.2 1264.5,681.6 1269.5,684.1 1274.5,691.2 1278.5,706.0 1283.5,728.7 1288.5,749.6 1292.5,761.8 1297.5,763.2 1302.5,761.4 1306.5,756.3 1311.5,747.6 1316.5,731.5 1320.5,715.7 1325.5,701.7 1330.5,692.7 1334.5,695.3 1339.5,712.2 1344.5,742.7 1348.5,763.6 1353.5,773.2 1358.5,770.3 1362.5,769.4 1367.5,766.6 1372.5,766.4 1376.5,764.0 1381.5,763.1 1386.5,754.4 1390.5,745.2 1395.5,739.2 1400.5,745.9 1404.5,756.5 1409.5,767.7 1414.5,769.5 1418.5,767.4 1423.5,759.7 1428.5,755.0 1432.5,744.6 1437.5,736.5 1442.5,727.0 1446.5,729.6 1451.5,729.7 1456.5,736.1 1460.5,743.0 1465.5,753.5 1470.5,758.8 1474.5,759.2 1479.5,764.7 1484.5,771.0 1488.5,776.4 1493.5,775.3 1498.5,771.7 1502.5,766.4 1507.5,758.8 1512.5,752.6 1516.5,742.2 1521.5,734.5 1526.5,724.9 1530.5,724.4 1535.5,725.9 1540.5,729.7 1544.5,736.9 1549.5,740.6 1554.5,749.2 1558.5,746.7 1563.5,749.0 1568.5,742.8 1572.5,741.9 1577.5,730.6 1582.5,715.4 1586.5,697.3 1591.5,692.9 1596.5,701.5 1601.5,716.0" fill="none" stroke="#ffffff" stroke-width="1"/>
</g>
<g shape-rendering="crispEdges">
<rect x="0" y="0" width="1711" height="3" fill="#ececec"/>
<rect x="0" y="3" width="1683" height="14" fill="url(#gtop)"/>
<rect x="1683" y="0" width="28" height="17" fill="#f0f0f0"/>
<rect x="1685" y="4" width="10" height="10" fill="#d8d8ff"/>
<rect x="1686" y="5" width="8" height="8" fill="#0000d0"/>
<rect x="1687" y="6" width="6" height="6" fill="#2828ff"/>
<text x="1702.6" y="13.5" fill="#000" font-size="14.5" text-anchor="middle" font-family="Liberation Serif, serif" font-weight="bold" textLength="8.5" lengthAdjust="spacingAndGlyphs">T</text>
<rect x="0" y="17" width="1710" height="1" fill="#fff"/>
<rect x="0" y="18" width="1669" height="14" fill="#000"/>
<rect x="1669" y="18" width="41" height="14" fill="#fafafa"/>
<rect x="1671" y="19" width="12" height="12" fill="#e6e6e6"/>
<rect x="1670" y="19" width="1" height="12" fill="#6a6a6a"/>
<rect x="1686" y="19" width="12" height="12" fill="#e6e6e6"/>
<rect x="1685" y="19" width="1" height="12" fill="#6a6a6a"/>
<rect x="1701" y="19" width="10" height="12" fill="#e6e6e6"/>
<rect x="1700" y="19" width="1" height="12" fill="#6a6a6a"/>
<rect x="1675" y="26" width="5" height="2" fill="#8c8c8c"/>
<rect x="1689" y="23" width="7" height="5" fill="#e6e6e6" stroke="#8a92a4" stroke-width="1"/>
<rect x="1689" y="23" width="7" height="2" fill="#8a92a4"/>
<path d="M1704.5 22.5 L1710 28 M1710 22.5 L1704.5 28" stroke="#a4acbc" stroke-width="1.2" shape-rendering="auto"/>
<text x="790.5" y="29" fill="#fff" font-size="11" text-anchor="middle" textLength="28" lengthAdjust="spacingAndGlyphs">Prezzi</text>
<rect x="0" y="32" width="1710" height="1" fill="#fff"/>
<rect x="0" y="525" width="1710" height="2" fill="#a9b5c9"/>
<rect x="0" y="527" width="1710" height="1" fill="#e8eefa"/>
<rect x="0" y="528" width="1669" height="14" fill="#000"/>
<rect x="1669" y="528" width="41" height="14" fill="#fafafa"/>
<rect x="1671" y="529" width="12" height="12" fill="#e6e6e6"/>
<rect x="1670" y="529" width="1" height="12" fill="#6a6a6a"/>
<rect x="1686" y="529" width="12" height="12" fill="#e6e6e6"/>
<rect x="1685" y="529" width="1" height="12" fill="#6a6a6a"/>
<rect x="1701" y="529" width="10" height="12" fill="#e6e6e6"/>
<rect x="1700" y="529" width="1" height="12" fill="#6a6a6a"/>
<rect x="1675" y="536" width="5" height="2" fill="#8c8c8c"/>
<rect x="1689" y="533" width="7" height="5" fill="#e6e6e6" stroke="#8a92a4" stroke-width="1"/>
<rect x="1689" y="533" width="7" height="2" fill="#8a92a4"/>
<path d="M1704.5 532.5 L1710 538 M1710 532.5 L1704.5 538" stroke="#a4acbc" stroke-width="1.2" shape-rendering="auto"/>
<rect x="789" y="537" width="1" height="2" fill="#fff"/>
<rect x="791" y="537" width="1" height="2" fill="#fff"/>
<rect x="793" y="537" width="1" height="2" fill="#fff"/>
<rect x="0" y="542" width="1710" height="1" fill="#fff"/>
<line x1="0" y1="651.5" x2="1661" y2="651.5" stroke="#fff" stroke-dasharray="1 1"/>
<rect x="0" y="652" width="1710" height="2" fill="#a9b5c9"/>
<rect x="0" y="654" width="1710" height="1" fill="#e8eefa"/>
<rect x="0" y="655" width="1669" height="14" fill="#000"/>
<rect x="1669" y="655" width="41" height="14" fill="#fafafa"/>
<rect x="1671" y="656" width="12" height="12" fill="#e6e6e6"/>
<rect x="1670" y="656" width="1" height="12" fill="#6a6a6a"/>
<rect x="1686" y="656" width="12" height="12" fill="#e6e6e6"/>
<rect x="1685" y="656" width="1" height="12" fill="#6a6a6a"/>
<rect x="1701" y="656" width="10" height="12" fill="#e6e6e6"/>
<rect x="1700" y="656" width="1" height="12" fill="#6a6a6a"/>
<rect x="1675" y="663" width="5" height="2" fill="#8c8c8c"/>
<rect x="1689" y="660" width="7" height="5" fill="#e6e6e6" stroke="#8a92a4" stroke-width="1"/>
<rect x="1689" y="660" width="7" height="2" fill="#8a92a4"/>
<path d="M1704.5 659.5 L1710 665 M1710 659.5 L1704.5 665" stroke="#a4acbc" stroke-width="1.2" shape-rendering="auto"/>
<rect x="789" y="664" width="1" height="2" fill="#fff"/>
<rect x="791" y="664" width="1" height="2" fill="#fff"/>
<rect x="793" y="664" width="1" height="2" fill="#fff"/>
<rect x="0" y="669" width="1710" height="1" fill="#fff"/>
<line x1="0" y1="778.5" x2="1661" y2="778.5" stroke="#fff" stroke-dasharray="1 1"/>
<rect x="0" y="779" width="1710" height="2" fill="#a9b5c9"/>
<rect x="0" y="781" width="1710" height="1" fill="#e8eefa"/>
<rect x="0" y="782" width="1669" height="14" fill="#000"/>
<rect x="1669" y="782" width="41" height="14" fill="#fafafa"/>
<rect x="1671" y="783" width="12" height="12" fill="#e6e6e6"/>
<rect x="1670" y="783" width="1" height="12" fill="#6a6a6a"/>
<rect x="1686" y="783" width="12" height="12" fill="#e6e6e6"/>
<rect x="1685" y="783" width="1" height="12" fill="#6a6a6a"/>
<rect x="1701" y="783" width="10" height="12" fill="#e6e6e6"/>
<rect x="1700" y="783" width="1" height="12" fill="#6a6a6a"/>
<rect x="1675" y="790" width="5" height="2" fill="#8c8c8c"/>
<rect x="1689" y="787" width="7" height="5" fill="#e6e6e6" stroke="#8a92a4" stroke-width="1"/>
<rect x="1689" y="787" width="7" height="2" fill="#8a92a4"/>
<path d="M1704.5 786.5 L1710 792 M1710 786.5 L1704.5 792" stroke="#a4acbc" stroke-width="1.2" shape-rendering="auto"/>
<text x="790.5" y="793" fill="#fff" font-size="11" text-anchor="middle" textLength="35" lengthAdjust="spacingAndGlyphs">Volumi</text>
<rect x="0" y="796" width="1710" height="1" fill="#fff"/>
<line x1="0" y1="905.5" x2="1661" y2="905.5" stroke="#fff" stroke-dasharray="1 1" stroke-opacity="0.9"/>
<rect x="0" y="907" width="1710" height="1" fill="#fff"/>
<rect x="0" y="927" width="1711" height="6" fill="#f0f0f0"/>
<rect x="1710" y="17" width="1" height="916" fill="#a0a0a0"/>
<rect x="1661" y="33" width="1" height="492" fill="#fff"/>
<rect x="1661" y="543" width="1" height="108" fill="#fff"/>
<rect x="1661" y="670" width="1" height="108" fill="#fff"/>
<rect x="1661" y="797" width="1" height="109" fill="#fff"/>
<rect x="1661" y="114" width="5" height="1" fill="#fff"/>
<text x="1669" y="119.3" fill="#fff" font-size="11" text-anchor="start">3,880</text>
<rect x="1661" y="197" width="5" height="1" fill="#fff"/>
<text x="1669" y="201.9812" fill="#fff" font-size="11" text-anchor="start">3,250</text>
<rect x="1661" y="278" width="5" height="1" fill="#fff"/>
<text x="1669" y="283.35" fill="#fff" font-size="11" text-anchor="start">2,630</text>
<rect x="1661" y="361" width="5" height="1" fill="#fff"/>
<text x="1669" y="366.0312" fill="#fff" font-size="11" text-anchor="start">2,000</text>
<rect x="1661" y="442" width="5" height="1" fill="#fff"/>
<text x="1669" y="447.40000000000003" fill="#fff" font-size="11" text-anchor="start">1,380</text>
<text x="1669" y="44" fill="#fff" font-size="11" text-anchor="start">4,500</text>
<rect x="1661" y="33" width="5" height="1" fill="#fff"/>
<text x="1669" y="523" fill="#fff" font-size="11" text-anchor="start">0,755</text>
<rect x="1661" y="422" width="5" height="1" fill="#fff"/>
<rect x="1666" y="416" width="34" height="13" fill="#fff"/>
<text x="1669" y="427.0578" fill="#000" font-size="11" text-anchor="start">1,535</text>
<text x="1669" y="554.3" fill="#fff" font-size="11" text-anchor="start">91,16</text>
<rect x="1661" y="561" width="5" height="1" fill="#fff"/>
<text x="1669" y="566.2" fill="#fff" font-size="11" text-anchor="start">76,99</text>
<rect x="1661" y="579" width="5" height="1" fill="#fff"/>
<text x="1669" y="584.2" fill="#fff" font-size="11" text-anchor="start">62,83</text>
<rect x="1661" y="597" width="5" height="1" fill="#fff"/>
<text x="1669" y="602.2" fill="#fff" font-size="11" text-anchor="start">48,66</text>
<rect x="1661" y="615" width="5" height="1" fill="#fff"/>
<text x="1669" y="620.2" fill="#fff" font-size="11" text-anchor="start">34,50</text>
<rect x="1661" y="633" width="5" height="1" fill="#fff"/>
<text x="1669" y="638.2" fill="#fff" font-size="11" text-anchor="start">20,33</text>
<text x="1669" y="650.1" fill="#fff" font-size="11" text-anchor="start">6,17</text>
<text x="1669" y="681.2" fill="#fff" font-size="11" text-anchor="start">100,00</text>
<rect x="1661" y="688" width="5" height="1" fill="#fff"/>
<text x="1669" y="693.4" fill="#fff" font-size="11" text-anchor="start">83,33</text>
<rect x="1661" y="706" width="5" height="1" fill="#fff"/>
<text x="1669" y="711.4" fill="#fff" font-size="11" text-anchor="start">66,67</text>
<rect x="1661" y="724" width="5" height="1" fill="#fff"/>
<text x="1669" y="729.4" fill="#fff" font-size="11" text-anchor="start">50,00</text>
<rect x="1661" y="742" width="5" height="1" fill="#fff"/>
<text x="1669" y="747.4" fill="#fff" font-size="11" text-anchor="start">33,33</text>
<rect x="1661" y="760" width="5" height="1" fill="#fff"/>
<text x="1669" y="765.4" fill="#fff" font-size="11" text-anchor="start">16,67</text>
<text x="1669" y="777" fill="#fff" font-size="11" text-anchor="start">0,00</text>
<text x="1669" y="808" fill="#fff" font-size="11" text-anchor="start" textLength="32" lengthAdjust="spacingAndGlyphs">464,5K</text>
<rect x="1661" y="816" width="5" height="1" fill="#fff"/>
<text x="1669" y="820.5" fill="#fff" font-size="11" text-anchor="start" textLength="38" lengthAdjust="spacingAndGlyphs">387,08K</text>
<rect x="1661" y="834" width="5" height="1" fill="#fff"/>
<text x="1669" y="838.5" fill="#fff" font-size="11" text-anchor="start" textLength="38" lengthAdjust="spacingAndGlyphs">309,67K</text>
<rect x="1661" y="851" width="5" height="1" fill="#fff"/>
<text x="1669" y="856.2" fill="#fff" font-size="11" text-anchor="start" textLength="38" lengthAdjust="spacingAndGlyphs">232,25K</text>
<rect x="1661" y="869" width="5" height="1" fill="#fff"/>
<text x="1669" y="874.1" fill="#fff" font-size="11" text-anchor="start" textLength="38" lengthAdjust="spacingAndGlyphs">154,83K</text>
<rect x="1661" y="905" width="5" height="1" fill="#fff"/>
<text x="1669" y="893" fill="#fff" font-size="11" text-anchor="start" textLength="33" lengthAdjust="spacingAndGlyphs">77,42K</text>
<rect x="1661" y="888" width="5" height="1" fill="#fff"/>
<rect x="1666" y="882" width="34" height="13" fill="#fff"/>
<text x="1669" y="893.3" fill="#000" font-size="11" text-anchor="start" textLength="27" lengthAdjust="spacingAndGlyphs">72,5K</text>
<text x="90" y="921" fill="#e6e632" font-size="11" text-anchor="middle">08ago</text>
<text x="165" y="921" fill="#d41c1c" font-size="11" text-anchor="middle">set</text>
<text x="220.7" y="921" fill="#e6e632" font-size="11" text-anchor="middle">19set</text>
<text x="267" y="921" fill="#d41c1c" font-size="11" text-anchor="middle">ott</text>
<text x="313.8" y="921" fill="#e6e632" font-size="11" text-anchor="middle">17ott</text>
<text x="365" y="921" fill="#d41c1c" font-size="11" text-anchor="middle">nov</text>
<text x="407" y="921" fill="#e6e632" font-size="11" text-anchor="middle">14nov</text>
<text x="454" y="921" fill="#d41c1c" font-size="11" text-anchor="middle">dic</text>
<text x="548" y="921" fill="#ffffff" font-size="11" text-anchor="middle">2023</text>
<text x="594.4" y="921" fill="#e6e632" font-size="11" text-anchor="middle">16gen</text>
<text x="649.4" y="921" fill="#d41c1c" font-size="11" text-anchor="middle">feb</text>
<text x="687.6" y="921" fill="#e6e632" font-size="11" text-anchor="middle">13feb</text>
<text x="744" y="921" fill="#d41c1c" font-size="11" text-anchor="middle">mar</text>
<text x="803.6" y="921" fill="#e6e632" font-size="11" text-anchor="middle">20mar</text>
<text x="851" y="921" fill="#d41c1c" font-size="11" text-anchor="middle">apr</text>
<text x="888.8" y="921" fill="#e6e632" font-size="11" text-anchor="middle">17apr</text>
<text x="935.6" y="921" fill="#d41c1c" font-size="11" text-anchor="middle">mag</text>
<text x="1024" y="921" fill="#d41c1c" font-size="11" text-anchor="middle">giu</text>
<text x="1080" y="921" fill="#e6e632" font-size="11" text-anchor="middle">19giu</text>
<text x="1126.7" y="921" fill="#d41c1c" font-size="11" text-anchor="middle">lug</text>
<text x="1172.8" y="921" fill="#e6e632" font-size="11" text-anchor="middle">17lug</text>
<text x="1225.3" y="921" fill="#d41c1c" font-size="11" text-anchor="middle">ago</text>
<text x="1267" y="921" fill="#e6e632" font-size="11" text-anchor="middle">14ago</text>
<text x="1323" y="921" fill="#d41c1c" font-size="11" text-anchor="middle">set</text>
<text x="1373.8" y="921" fill="#e6e632" font-size="11" text-anchor="middle">18set</text>
<text x="1420.8" y="921" fill="#d41c1c" font-size="11" text-anchor="middle">ott</text>
<text x="1462.9" y="921" fill="#e6e632" font-size="11" text-anchor="middle">16ott</text>
<text x="1518.8" y="921" fill="#d41c1c" font-size="11" text-anchor="middle">nov</text>
<text x="1579.6" y="921" fill="#e6e632" font-size="11" text-anchor="middle">20nov</text>
<text x="1622" y="921" fill="#d41c1c" font-size="11" text-anchor="middle">dic</text>
<rect x="92" y="908" width="1" height="4" fill="#fff"/>
<rect x="115" y="908" width="1" height="4" fill="#fff"/>
<rect x="134" y="908" width="1" height="2" fill="#fff"/>
<rect x="157" y="908" width="1" height="2" fill="#fff"/>
<rect x="167" y="908" width="1" height="2" fill="#fff"/>
<rect x="176" y="908" width="1" height="4" fill="#fff"/>
<rect x="199" y="908" width="1" height="4" fill="#fff"/>
<rect x="223" y="908" width="1" height="4" fill="#fff"/>
<rect x="246" y="908" width="1" height="4" fill="#fff"/>
<rect x="269" y="908" width="1" height="4" fill="#fff"/>
<rect x="293" y="908" width="1" height="4" fill="#fff"/>
<rect x="316" y="908" width="1" height="4" fill="#fff"/>
<rect x="339" y="908" width="1" height="4" fill="#fff"/>
<rect x="363" y="908" width="1" height="2" fill="#fff"/>
<rect x="367" y="908" width="1" height="2" fill="#fff"/>
<rect x="386" y="908" width="1" height="4" fill="#fff"/>
<rect x="409" y="908" width="1" height="4" fill="#fff"/>
<rect x="433" y="908" width="1" height="4" fill="#fff"/>
<rect x="442" y="908" width="1" height="4" fill="#fff"/>
<rect x="456" y="908" width="1" height="4" fill="#fff"/>
<rect x="466" y="908" width="1" height="4" fill="#fff"/>
<rect x="489" y="908" width="1" height="2" fill="#fff"/>
<rect x="512" y="908" width="1" height="2" fill="#fff"/>
<rect x="536" y="908" width="1" height="4" fill="#fff"/>
<rect x="550" y="908" width="1" height="4" fill="#fff"/>
<rect x="573" y="908" width="1" height="4" fill="#fff"/>
<rect x="596" y="908" width="1" height="4" fill="#fff"/>
<rect x="620" y="908" width="1" height="2" fill="#fff"/>
<rect x="643" y="908" width="1" height="2" fill="#fff"/>
<rect x="652" y="908" width="1" height="2" fill="#fff"/>
<rect x="666" y="908" width="1" height="4" fill="#fff"/>
<rect x="690" y="908" width="1" height="4" fill="#fff"/>
<rect x="713" y="908" width="1" height="2" fill="#fff"/>
<rect x="736" y="908" width="1" height="2" fill="#fff"/>
<rect x="746" y="908" width="1" height="2" fill="#fff"/>
<rect x="760" y="908" width="1" height="4" fill="#fff"/>
<rect x="783" y="908" width="1" height="4" fill="#fff"/>
<rect x="806" y="908" width="1" height="4" fill="#fff"/>
<rect x="830" y="908" width="1" height="4" fill="#fff"/>
<rect x="853" y="908" width="1" height="4" fill="#fff"/>
<rect x="872" y="908" width="1" height="4" fill="#fff"/>
<rect x="891" y="908" width="1" height="4" fill="#fff"/>
<rect x="914" y="908" width="1" height="4" fill="#fff"/>
<rect x="937" y="908" width="1" height="4" fill="#fff"/>
<rect x="956" y="908" width="1" height="4" fill="#fff"/>
<rect x="965" y="908" width="1" height="2" fill="#fff"/>
<rect x="989" y="908" width="1" height="2" fill="#fff"/>
<rect x="1012" y="908" width="1" height="4" fill="#fff"/>
<rect x="1026" y="908" width="1" height="4" fill="#fff"/>
<rect x="1035" y="908" width="1" height="4" fill="#fff"/>
<rect x="1059" y="908" width="1" height="4" fill="#fff"/>
<rect x="1082" y="908" width="1" height="4" fill="#fff"/>
<rect x="1105" y="908" width="1" height="4" fill="#fff"/>
<rect x="1129" y="908" width="1" height="4" fill="#fff"/>
<rect x="1152" y="908" width="1" height="4" fill="#fff"/>
<rect x="1175" y="908" width="1" height="4" fill="#fff"/>
<rect x="1199" y="908" width="1" height="2" fill="#fff"/>
<rect x="1222" y="908" width="1" height="2" fill="#fff"/>
<rect x="1227" y="908" width="1" height="2" fill="#fff"/>
<rect x="1246" y="908" width="1" height="4" fill="#fff"/>
<rect x="1269" y="908" width="1" height="4" fill="#fff"/>
<rect x="1288" y="908" width="1" height="4" fill="#fff"/>
<rect x="1306" y="908" width="1" height="4" fill="#fff"/>
<rect x="1325" y="908" width="1" height="4" fill="#fff"/>
<rect x="1330" y="908" width="1" height="4" fill="#fff"/>
<rect x="1353" y="908" width="1" height="4" fill="#fff"/>
<rect x="1376" y="908" width="1" height="4" fill="#fff"/>
<rect x="1400" y="908" width="1" height="4" fill="#fff"/>
<rect x="1423" y="908" width="1" height="4" fill="#fff"/>
<rect x="1442" y="908" width="1" height="4" fill="#fff"/>
<rect x="1465" y="908" width="1" height="4" fill="#fff"/>
<rect x="1488" y="908" width="1" height="4" fill="#fff"/>
<rect x="1512" y="908" width="1" height="2" fill="#fff"/>
<rect x="1521" y="908" width="1" height="2" fill="#fff"/>
<rect x="1535" y="908" width="1" height="4" fill="#fff"/>
<rect x="1558" y="908" width="1" height="4" fill="#fff"/>
<rect x="1582" y="908" width="1" height="4" fill="#fff"/>
<rect x="1605" y="908" width="1" height="4" fill="#fff"/>
<rect x="1624" y="908" width="1" height="4" fill="#fff"/>
<rect x="1629" y="908" width="1" height="4" fill="#fff"/>
<rect x="1652" y="908" width="1" height="4" fill="#fff"/>
<text x="1172" y="112" fill="#fff" font-size="28" text-anchor="start" font-weight="bold">Eny daily</text>
<text x="3" y="14" fill="#fff" font-size="12" text-anchor="start" textLength="33" lengthAdjust="spacingAndGlyphs">EOD D</text>
</g>
</svg>
</body></html>
